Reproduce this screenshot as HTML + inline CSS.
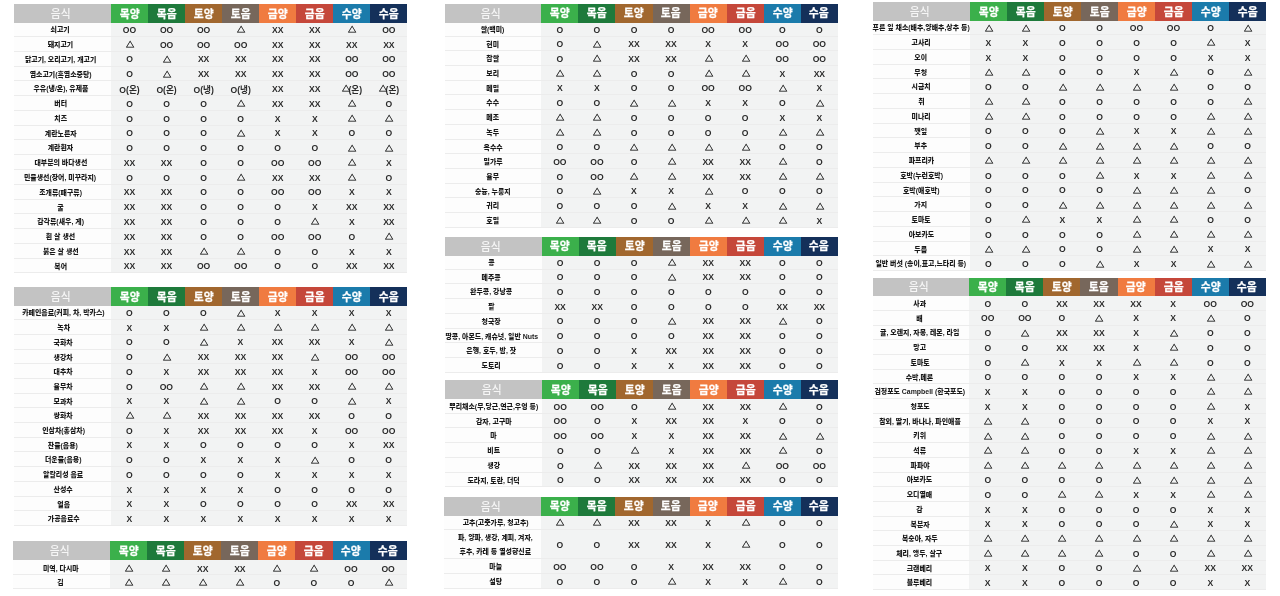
<!DOCTYPE html>
<html lang="ko"><head><meta charset="utf-8"><title>음식 체질표</title><style>
*{margin:0;padding:0;box-sizing:border-box}
html,body{width:1280px;height:596px;overflow:hidden;background:#fff}
body{position:relative;will-change:transform;font-family:"Liberation Sans","Noto Sans CJK KR",sans-serif}
.hn,.hc,.nb,.db,.ln,.nm,.nm2,.c{position:absolute}
.hn{background:#c3c3c3;color:#f6f6f6;display:flex;align-items:center;justify-content:center;font-family:"Noto Sans CJK KR",sans-serif;font-weight:500;font-size:11.6px;padding-right:4.6px;padding-top:.6px}
.hc{color:#fff;display:flex;align-items:center;justify-content:center;font-family:"Noto Sans CJK KR",sans-serif;font-weight:700;font-size:11.6px;padding-right:.6px;-webkit-text-stroke:.25px #fff}
.hn span,.hc span{display:inline-block;transform:scaleX(.93);line-height:1}
.nb{background:#fdfdfd}
.db{background:#f2f3f3}
.ln{height:1px;background:#ececec}
.nm,.nm2{display:flex;align-items:center;justify-content:center;font-family:"Liberation Sans","Noto Sans CJK KR",sans-serif;font-weight:900;font-size:7.3px;color:#1a1a1a;white-space:nowrap;text-align:center;padding-top:2px}
.nm span,.nm2 span{display:inline-block;transform:scaleX(.95);line-height:1}
.nm2 span{line-height:14.2px}
.c{display:flex;align-items:center;justify-content:center;font-family:"Liberation Sans","Noto Sans CJK KR",sans-serif;font-weight:700;font-size:8.6px;color:#2b2b2b;white-space:nowrap;padding-top:2px}
.c i{font-style:normal;font-family:"Noto Sans CJK KR",sans-serif;font-weight:400;font-size:7px;display:inline-block;transform:translate(.6px,-.3px) scaleX(1.18);line-height:1;-webkit-text-stroke:0.4px #262626}
</style></head><body>
<div class="hn" style="left:14px;top:4.1px;width:97.6px;height:18.9px"><span>음식</span></div>
<div class="hc" style="left:111px;top:4.1px;width:37.65px;height:18.9px;background:#3bb04b"><span>목양</span></div>
<div class="hc" style="left:148.05px;top:4.1px;width:37.65px;height:18.9px;background:#1e7a3b"><span>목음</span></div>
<div class="hc" style="left:185.1px;top:4.1px;width:37.65px;height:18.9px;background:#a1672e"><span>토양</span></div>
<div class="hc" style="left:222.15px;top:4.1px;width:37.65px;height:18.9px;background:#77675b"><span>토음</span></div>
<div class="hc" style="left:259.2px;top:4.1px;width:37.65px;height:18.9px;background:#f07b40"><span>금양</span></div>
<div class="hc" style="left:296.25px;top:4.1px;width:37.65px;height:18.9px;background:#c5473a"><span>금음</span></div>
<div class="hc" style="left:333.3px;top:4.1px;width:37.65px;height:18.9px;background:#1b7bab"><span>수양</span></div>
<div class="hc" style="left:370.35px;top:4.1px;width:37.05px;height:18.9px;background:#14305a"><span>수음</span></div>
<div class="nb" style="left:14px;top:23px;width:97.6px;height:249.7px"></div>
<div class="db" style="left:111px;top:23px;width:296.4px;height:249.7px"></div>
<div class="ln" style="left:14px;top:36px;width:393.4px"></div>
<div class="nm" style="left:12px;top:21.52px;width:97px;height:14.77px"><span>쇠고기</span></div>
<div class="c" style="left:111px;top:21.52px;width:37.05px;height:14.77px">OO</div>
<div class="c" style="left:148.05px;top:21.52px;width:37.05px;height:14.77px">OO</div>
<div class="c" style="left:185.1px;top:21.52px;width:37.05px;height:14.77px">OO</div>
<div class="c" style="left:222.15px;top:21.52px;width:37.05px;height:14.77px"><i>△</i></div>
<div class="c" style="left:259.2px;top:21.52px;width:37.05px;height:14.77px">XX</div>
<div class="c" style="left:296.25px;top:21.52px;width:37.05px;height:14.77px">XX</div>
<div class="c" style="left:333.3px;top:21.52px;width:37.05px;height:14.77px"><i>△</i></div>
<div class="c" style="left:370.35px;top:21.52px;width:37.05px;height:14.77px">OO</div>
<div class="ln" style="left:14px;top:50.77px;width:393.4px"></div>
<div class="nm" style="left:12px;top:36.3px;width:97px;height:14.77px"><span>돼지고기</span></div>
<div class="c" style="left:111px;top:36.3px;width:37.05px;height:14.77px"><i>△</i></div>
<div class="c" style="left:148.05px;top:36.3px;width:37.05px;height:14.77px">OO</div>
<div class="c" style="left:185.1px;top:36.3px;width:37.05px;height:14.77px">OO</div>
<div class="c" style="left:222.15px;top:36.3px;width:37.05px;height:14.77px">OO</div>
<div class="c" style="left:259.2px;top:36.3px;width:37.05px;height:14.77px">XX</div>
<div class="c" style="left:296.25px;top:36.3px;width:37.05px;height:14.77px">XX</div>
<div class="c" style="left:333.3px;top:36.3px;width:37.05px;height:14.77px">XX</div>
<div class="c" style="left:370.35px;top:36.3px;width:37.05px;height:14.77px">XX</div>
<div class="ln" style="left:14px;top:65.55px;width:393.4px"></div>
<div class="nm" style="left:12px;top:51.07px;width:97px;height:14.77px"><span>닭고기, 오리고기, 개고기</span></div>
<div class="c" style="left:111px;top:51.07px;width:37.05px;height:14.77px">O</div>
<div class="c" style="left:148.05px;top:51.07px;width:37.05px;height:14.77px"><i>△</i></div>
<div class="c" style="left:185.1px;top:51.07px;width:37.05px;height:14.77px">XX</div>
<div class="c" style="left:222.15px;top:51.07px;width:37.05px;height:14.77px">XX</div>
<div class="c" style="left:259.2px;top:51.07px;width:37.05px;height:14.77px">XX</div>
<div class="c" style="left:296.25px;top:51.07px;width:37.05px;height:14.77px">XX</div>
<div class="c" style="left:333.3px;top:51.07px;width:37.05px;height:14.77px">OO</div>
<div class="c" style="left:370.35px;top:51.07px;width:37.05px;height:14.77px">OO</div>
<div class="ln" style="left:14px;top:80.33px;width:393.4px"></div>
<div class="nm" style="left:12px;top:65.85px;width:97px;height:14.77px"><span>염소고기(흑염소중탕)</span></div>
<div class="c" style="left:111px;top:65.85px;width:37.05px;height:14.77px">O</div>
<div class="c" style="left:148.05px;top:65.85px;width:37.05px;height:14.77px"><i>△</i></div>
<div class="c" style="left:185.1px;top:65.85px;width:37.05px;height:14.77px">XX</div>
<div class="c" style="left:222.15px;top:65.85px;width:37.05px;height:14.77px">XX</div>
<div class="c" style="left:259.2px;top:65.85px;width:37.05px;height:14.77px">XX</div>
<div class="c" style="left:296.25px;top:65.85px;width:37.05px;height:14.77px">XX</div>
<div class="c" style="left:333.3px;top:65.85px;width:37.05px;height:14.77px">OO</div>
<div class="c" style="left:370.35px;top:65.85px;width:37.05px;height:14.77px">OO</div>
<div class="ln" style="left:14px;top:95.1px;width:393.4px"></div>
<div class="nm" style="left:12px;top:80.62px;width:97px;height:14.77px"><span>우유(냉/온), 유제품</span></div>
<div class="c" style="left:111px;top:80.62px;width:37.05px;height:14.77px">O(온)</div>
<div class="c" style="left:148.05px;top:80.62px;width:37.05px;height:14.77px">O(온)</div>
<div class="c" style="left:185.1px;top:80.62px;width:37.05px;height:14.77px">O(냉)</div>
<div class="c" style="left:222.15px;top:80.62px;width:37.05px;height:14.77px">O(냉)</div>
<div class="c" style="left:259.2px;top:80.62px;width:37.05px;height:14.77px">XX</div>
<div class="c" style="left:296.25px;top:80.62px;width:37.05px;height:14.77px">XX</div>
<div class="c" style="left:333.3px;top:80.62px;width:37.05px;height:14.77px"><i>△</i>(온)</div>
<div class="c" style="left:370.35px;top:80.62px;width:37.05px;height:14.77px"><i>△</i>(온)</div>
<div class="ln" style="left:14px;top:109.88px;width:393.4px"></div>
<div class="nm" style="left:12px;top:95.4px;width:97px;height:14.77px"><span>버터</span></div>
<div class="c" style="left:111px;top:95.4px;width:37.05px;height:14.77px">O</div>
<div class="c" style="left:148.05px;top:95.4px;width:37.05px;height:14.77px">O</div>
<div class="c" style="left:185.1px;top:95.4px;width:37.05px;height:14.77px">O</div>
<div class="c" style="left:222.15px;top:95.4px;width:37.05px;height:14.77px"><i>△</i></div>
<div class="c" style="left:259.2px;top:95.4px;width:37.05px;height:14.77px">XX</div>
<div class="c" style="left:296.25px;top:95.4px;width:37.05px;height:14.77px">XX</div>
<div class="c" style="left:333.3px;top:95.4px;width:37.05px;height:14.77px"><i>△</i></div>
<div class="c" style="left:370.35px;top:95.4px;width:37.05px;height:14.77px">O</div>
<div class="ln" style="left:14px;top:124.65px;width:393.4px"></div>
<div class="nm" style="left:12px;top:110.18px;width:97px;height:14.77px"><span>치즈</span></div>
<div class="c" style="left:111px;top:110.18px;width:37.05px;height:14.77px">O</div>
<div class="c" style="left:148.05px;top:110.18px;width:37.05px;height:14.77px">O</div>
<div class="c" style="left:185.1px;top:110.18px;width:37.05px;height:14.77px">O</div>
<div class="c" style="left:222.15px;top:110.18px;width:37.05px;height:14.77px">O</div>
<div class="c" style="left:259.2px;top:110.18px;width:37.05px;height:14.77px">X</div>
<div class="c" style="left:296.25px;top:110.18px;width:37.05px;height:14.77px">X</div>
<div class="c" style="left:333.3px;top:110.18px;width:37.05px;height:14.77px"><i>△</i></div>
<div class="c" style="left:370.35px;top:110.18px;width:37.05px;height:14.77px"><i>△</i></div>
<div class="ln" style="left:14px;top:139.43px;width:393.4px"></div>
<div class="nm" style="left:12px;top:124.95px;width:97px;height:14.77px"><span>계란노른자</span></div>
<div class="c" style="left:111px;top:124.95px;width:37.05px;height:14.77px">O</div>
<div class="c" style="left:148.05px;top:124.95px;width:37.05px;height:14.77px">O</div>
<div class="c" style="left:185.1px;top:124.95px;width:37.05px;height:14.77px">O</div>
<div class="c" style="left:222.15px;top:124.95px;width:37.05px;height:14.77px"><i>△</i></div>
<div class="c" style="left:259.2px;top:124.95px;width:37.05px;height:14.77px">X</div>
<div class="c" style="left:296.25px;top:124.95px;width:37.05px;height:14.77px">X</div>
<div class="c" style="left:333.3px;top:124.95px;width:37.05px;height:14.77px">O</div>
<div class="c" style="left:370.35px;top:124.95px;width:37.05px;height:14.77px">O</div>
<div class="ln" style="left:14px;top:154.2px;width:393.4px"></div>
<div class="nm" style="left:12px;top:139.73px;width:97px;height:14.77px"><span>계란흰자</span></div>
<div class="c" style="left:111px;top:139.73px;width:37.05px;height:14.77px">O</div>
<div class="c" style="left:148.05px;top:139.73px;width:37.05px;height:14.77px">O</div>
<div class="c" style="left:185.1px;top:139.73px;width:37.05px;height:14.77px">O</div>
<div class="c" style="left:222.15px;top:139.73px;width:37.05px;height:14.77px">O</div>
<div class="c" style="left:259.2px;top:139.73px;width:37.05px;height:14.77px">O</div>
<div class="c" style="left:296.25px;top:139.73px;width:37.05px;height:14.77px">O</div>
<div class="c" style="left:333.3px;top:139.73px;width:37.05px;height:14.77px"><i>△</i></div>
<div class="c" style="left:370.35px;top:139.73px;width:37.05px;height:14.77px"><i>△</i></div>
<div class="ln" style="left:14px;top:168.98px;width:393.4px"></div>
<div class="nm" style="left:12px;top:154.5px;width:97px;height:14.77px"><span>대부분의 바다생선</span></div>
<div class="c" style="left:111px;top:154.5px;width:37.05px;height:14.77px">XX</div>
<div class="c" style="left:148.05px;top:154.5px;width:37.05px;height:14.77px">XX</div>
<div class="c" style="left:185.1px;top:154.5px;width:37.05px;height:14.77px">O</div>
<div class="c" style="left:222.15px;top:154.5px;width:37.05px;height:14.77px">O</div>
<div class="c" style="left:259.2px;top:154.5px;width:37.05px;height:14.77px">OO</div>
<div class="c" style="left:296.25px;top:154.5px;width:37.05px;height:14.77px">OO</div>
<div class="c" style="left:333.3px;top:154.5px;width:37.05px;height:14.77px"><i>△</i></div>
<div class="c" style="left:370.35px;top:154.5px;width:37.05px;height:14.77px">X</div>
<div class="ln" style="left:14px;top:183.75px;width:393.4px"></div>
<div class="nm" style="left:12px;top:169.28px;width:97px;height:14.77px"><span>민물생선(장어, 미꾸라지)</span></div>
<div class="c" style="left:111px;top:169.28px;width:37.05px;height:14.77px">O</div>
<div class="c" style="left:148.05px;top:169.28px;width:37.05px;height:14.77px">O</div>
<div class="c" style="left:185.1px;top:169.28px;width:37.05px;height:14.77px">O</div>
<div class="c" style="left:222.15px;top:169.28px;width:37.05px;height:14.77px"><i>△</i></div>
<div class="c" style="left:259.2px;top:169.28px;width:37.05px;height:14.77px">XX</div>
<div class="c" style="left:296.25px;top:169.28px;width:37.05px;height:14.77px">XX</div>
<div class="c" style="left:333.3px;top:169.28px;width:37.05px;height:14.77px"><i>△</i></div>
<div class="c" style="left:370.35px;top:169.28px;width:37.05px;height:14.77px">O</div>
<div class="ln" style="left:14px;top:198.53px;width:393.4px"></div>
<div class="nm" style="left:12px;top:184.05px;width:97px;height:14.77px"><span>조개류(패구류)</span></div>
<div class="c" style="left:111px;top:184.05px;width:37.05px;height:14.77px">XX</div>
<div class="c" style="left:148.05px;top:184.05px;width:37.05px;height:14.77px">XX</div>
<div class="c" style="left:185.1px;top:184.05px;width:37.05px;height:14.77px">O</div>
<div class="c" style="left:222.15px;top:184.05px;width:37.05px;height:14.77px">O</div>
<div class="c" style="left:259.2px;top:184.05px;width:37.05px;height:14.77px">OO</div>
<div class="c" style="left:296.25px;top:184.05px;width:37.05px;height:14.77px">OO</div>
<div class="c" style="left:333.3px;top:184.05px;width:37.05px;height:14.77px">X</div>
<div class="c" style="left:370.35px;top:184.05px;width:37.05px;height:14.77px">X</div>
<div class="ln" style="left:14px;top:213.3px;width:393.4px"></div>
<div class="nm" style="left:12px;top:198.83px;width:97px;height:14.77px"><span>굴</span></div>
<div class="c" style="left:111px;top:198.83px;width:37.05px;height:14.77px">XX</div>
<div class="c" style="left:148.05px;top:198.83px;width:37.05px;height:14.77px">XX</div>
<div class="c" style="left:185.1px;top:198.83px;width:37.05px;height:14.77px">O</div>
<div class="c" style="left:222.15px;top:198.83px;width:37.05px;height:14.77px">O</div>
<div class="c" style="left:259.2px;top:198.83px;width:37.05px;height:14.77px">O</div>
<div class="c" style="left:296.25px;top:198.83px;width:37.05px;height:14.77px">X</div>
<div class="c" style="left:333.3px;top:198.83px;width:37.05px;height:14.77px">XX</div>
<div class="c" style="left:370.35px;top:198.83px;width:37.05px;height:14.77px">XX</div>
<div class="ln" style="left:14px;top:228.08px;width:393.4px"></div>
<div class="nm" style="left:12px;top:213.6px;width:97px;height:14.77px"><span>갑각류(새우, 게)</span></div>
<div class="c" style="left:111px;top:213.6px;width:37.05px;height:14.77px">XX</div>
<div class="c" style="left:148.05px;top:213.6px;width:37.05px;height:14.77px">XX</div>
<div class="c" style="left:185.1px;top:213.6px;width:37.05px;height:14.77px">O</div>
<div class="c" style="left:222.15px;top:213.6px;width:37.05px;height:14.77px">O</div>
<div class="c" style="left:259.2px;top:213.6px;width:37.05px;height:14.77px">O</div>
<div class="c" style="left:296.25px;top:213.6px;width:37.05px;height:14.77px"><i>△</i></div>
<div class="c" style="left:333.3px;top:213.6px;width:37.05px;height:14.77px">X</div>
<div class="c" style="left:370.35px;top:213.6px;width:37.05px;height:14.77px">XX</div>
<div class="ln" style="left:14px;top:242.85px;width:393.4px"></div>
<div class="nm" style="left:12px;top:228.38px;width:97px;height:14.77px"><span>흰 살 생선</span></div>
<div class="c" style="left:111px;top:228.38px;width:37.05px;height:14.77px">XX</div>
<div class="c" style="left:148.05px;top:228.38px;width:37.05px;height:14.77px">XX</div>
<div class="c" style="left:185.1px;top:228.38px;width:37.05px;height:14.77px">O</div>
<div class="c" style="left:222.15px;top:228.38px;width:37.05px;height:14.77px">O</div>
<div class="c" style="left:259.2px;top:228.38px;width:37.05px;height:14.77px">OO</div>
<div class="c" style="left:296.25px;top:228.38px;width:37.05px;height:14.77px">OO</div>
<div class="c" style="left:333.3px;top:228.38px;width:37.05px;height:14.77px">O</div>
<div class="c" style="left:370.35px;top:228.38px;width:37.05px;height:14.77px"><i>△</i></div>
<div class="ln" style="left:14px;top:257.63px;width:393.4px"></div>
<div class="nm" style="left:12px;top:243.15px;width:97px;height:14.77px"><span>붉은 살 생선</span></div>
<div class="c" style="left:111px;top:243.15px;width:37.05px;height:14.77px">XX</div>
<div class="c" style="left:148.05px;top:243.15px;width:37.05px;height:14.77px">XX</div>
<div class="c" style="left:185.1px;top:243.15px;width:37.05px;height:14.77px"><i>△</i></div>
<div class="c" style="left:222.15px;top:243.15px;width:37.05px;height:14.77px"><i>△</i></div>
<div class="c" style="left:259.2px;top:243.15px;width:37.05px;height:14.77px">O</div>
<div class="c" style="left:296.25px;top:243.15px;width:37.05px;height:14.77px">O</div>
<div class="c" style="left:333.3px;top:243.15px;width:37.05px;height:14.77px">X</div>
<div class="c" style="left:370.35px;top:243.15px;width:37.05px;height:14.77px">X</div>
<div class="ln" style="left:14px;top:272.4px;width:393.4px"></div>
<div class="nm" style="left:12px;top:257.93px;width:97px;height:14.77px"><span>복어</span></div>
<div class="c" style="left:111px;top:257.93px;width:37.05px;height:14.77px">XX</div>
<div class="c" style="left:148.05px;top:257.93px;width:37.05px;height:14.77px">XX</div>
<div class="c" style="left:185.1px;top:257.93px;width:37.05px;height:14.77px">OO</div>
<div class="c" style="left:222.15px;top:257.93px;width:37.05px;height:14.77px">OO</div>
<div class="c" style="left:259.2px;top:257.93px;width:37.05px;height:14.77px">O</div>
<div class="c" style="left:296.25px;top:257.93px;width:37.05px;height:14.77px">O</div>
<div class="c" style="left:333.3px;top:257.93px;width:37.05px;height:14.77px">XX</div>
<div class="c" style="left:370.35px;top:257.93px;width:37.05px;height:14.77px">XX</div>
<div class="hn" style="left:14px;top:287px;width:97.4px;height:19px"><span>음식</span></div>
<div class="hc" style="left:110.8px;top:287px;width:37.65px;height:19px;background:#3bb04b"><span>목양</span></div>
<div class="hc" style="left:147.85px;top:287px;width:37.65px;height:19px;background:#1e7a3b"><span>목음</span></div>
<div class="hc" style="left:184.9px;top:287px;width:37.65px;height:19px;background:#a1672e"><span>토양</span></div>
<div class="hc" style="left:221.95px;top:287px;width:37.65px;height:19px;background:#77675b"><span>토음</span></div>
<div class="hc" style="left:259px;top:287px;width:37.65px;height:19px;background:#f07b40"><span>금양</span></div>
<div class="hc" style="left:296.05px;top:287px;width:37.65px;height:19px;background:#c5473a"><span>금음</span></div>
<div class="hc" style="left:333.1px;top:287px;width:37.65px;height:19px;background:#1b7bab"><span>수양</span></div>
<div class="hc" style="left:370.15px;top:287px;width:37.05px;height:19px;background:#14305a"><span>수음</span></div>
<div class="nb" style="left:14px;top:306px;width:97.4px;height:219.3px"></div>
<div class="db" style="left:110.8px;top:306px;width:296.4px;height:219.3px"></div>
<div class="ln" style="left:14px;top:319.1px;width:393.2px"></div>
<div class="nm" style="left:14.95px;top:304.69px;width:96.8px;height:14.71px"><span>카페인음료(커피, 차, 박카스)</span></div>
<div class="c" style="left:110.8px;top:304.69px;width:37.05px;height:14.71px">O</div>
<div class="c" style="left:147.85px;top:304.69px;width:37.05px;height:14.71px">O</div>
<div class="c" style="left:184.9px;top:304.69px;width:37.05px;height:14.71px">O</div>
<div class="c" style="left:221.95px;top:304.69px;width:37.05px;height:14.71px"><i>△</i></div>
<div class="c" style="left:259px;top:304.69px;width:37.05px;height:14.71px">X</div>
<div class="c" style="left:296.05px;top:304.69px;width:37.05px;height:14.71px">X</div>
<div class="c" style="left:333.1px;top:304.69px;width:37.05px;height:14.71px">X</div>
<div class="c" style="left:370.15px;top:304.69px;width:37.05px;height:14.71px">X</div>
<div class="ln" style="left:14px;top:333.81px;width:393.2px"></div>
<div class="nm" style="left:14.95px;top:319.4px;width:96.8px;height:14.71px"><span>녹차</span></div>
<div class="c" style="left:110.8px;top:319.4px;width:37.05px;height:14.71px">X</div>
<div class="c" style="left:147.85px;top:319.4px;width:37.05px;height:14.71px">X</div>
<div class="c" style="left:184.9px;top:319.4px;width:37.05px;height:14.71px"><i>△</i></div>
<div class="c" style="left:221.95px;top:319.4px;width:37.05px;height:14.71px"><i>△</i></div>
<div class="c" style="left:259px;top:319.4px;width:37.05px;height:14.71px"><i>△</i></div>
<div class="c" style="left:296.05px;top:319.4px;width:37.05px;height:14.71px"><i>△</i></div>
<div class="c" style="left:333.1px;top:319.4px;width:37.05px;height:14.71px"><i>△</i></div>
<div class="c" style="left:370.15px;top:319.4px;width:37.05px;height:14.71px"><i>△</i></div>
<div class="ln" style="left:14px;top:348.51px;width:393.2px"></div>
<div class="nm" style="left:14.95px;top:334.11px;width:96.8px;height:14.71px"><span>국화차</span></div>
<div class="c" style="left:110.8px;top:334.11px;width:37.05px;height:14.71px">O</div>
<div class="c" style="left:147.85px;top:334.11px;width:37.05px;height:14.71px">O</div>
<div class="c" style="left:184.9px;top:334.11px;width:37.05px;height:14.71px"><i>△</i></div>
<div class="c" style="left:221.95px;top:334.11px;width:37.05px;height:14.71px">X</div>
<div class="c" style="left:259px;top:334.11px;width:37.05px;height:14.71px">XX</div>
<div class="c" style="left:296.05px;top:334.11px;width:37.05px;height:14.71px">XX</div>
<div class="c" style="left:333.1px;top:334.11px;width:37.05px;height:14.71px">X</div>
<div class="c" style="left:370.15px;top:334.11px;width:37.05px;height:14.71px"><i>△</i></div>
<div class="ln" style="left:14px;top:363.22px;width:393.2px"></div>
<div class="nm" style="left:14.95px;top:348.81px;width:96.8px;height:14.71px"><span>생강차</span></div>
<div class="c" style="left:110.8px;top:348.81px;width:37.05px;height:14.71px">O</div>
<div class="c" style="left:147.85px;top:348.81px;width:37.05px;height:14.71px"><i>△</i></div>
<div class="c" style="left:184.9px;top:348.81px;width:37.05px;height:14.71px">XX</div>
<div class="c" style="left:221.95px;top:348.81px;width:37.05px;height:14.71px">XX</div>
<div class="c" style="left:259px;top:348.81px;width:37.05px;height:14.71px">XX</div>
<div class="c" style="left:296.05px;top:348.81px;width:37.05px;height:14.71px"><i>△</i></div>
<div class="c" style="left:333.1px;top:348.81px;width:37.05px;height:14.71px">OO</div>
<div class="c" style="left:370.15px;top:348.81px;width:37.05px;height:14.71px">OO</div>
<div class="ln" style="left:14px;top:377.93px;width:393.2px"></div>
<div class="nm" style="left:14.95px;top:363.52px;width:96.8px;height:14.71px"><span>대추차</span></div>
<div class="c" style="left:110.8px;top:363.52px;width:37.05px;height:14.71px">O</div>
<div class="c" style="left:147.85px;top:363.52px;width:37.05px;height:14.71px">X</div>
<div class="c" style="left:184.9px;top:363.52px;width:37.05px;height:14.71px">XX</div>
<div class="c" style="left:221.95px;top:363.52px;width:37.05px;height:14.71px">XX</div>
<div class="c" style="left:259px;top:363.52px;width:37.05px;height:14.71px">XX</div>
<div class="c" style="left:296.05px;top:363.52px;width:37.05px;height:14.71px">X</div>
<div class="c" style="left:333.1px;top:363.52px;width:37.05px;height:14.71px">OO</div>
<div class="c" style="left:370.15px;top:363.52px;width:37.05px;height:14.71px">OO</div>
<div class="ln" style="left:14px;top:392.64px;width:393.2px"></div>
<div class="nm" style="left:14.95px;top:378.23px;width:96.8px;height:14.71px"><span>율무차</span></div>
<div class="c" style="left:110.8px;top:378.23px;width:37.05px;height:14.71px">O</div>
<div class="c" style="left:147.85px;top:378.23px;width:37.05px;height:14.71px">OO</div>
<div class="c" style="left:184.9px;top:378.23px;width:37.05px;height:14.71px"><i>△</i></div>
<div class="c" style="left:221.95px;top:378.23px;width:37.05px;height:14.71px"><i>△</i></div>
<div class="c" style="left:259px;top:378.23px;width:37.05px;height:14.71px">XX</div>
<div class="c" style="left:296.05px;top:378.23px;width:37.05px;height:14.71px">XX</div>
<div class="c" style="left:333.1px;top:378.23px;width:37.05px;height:14.71px"><i>△</i></div>
<div class="c" style="left:370.15px;top:378.23px;width:37.05px;height:14.71px"><i>△</i></div>
<div class="ln" style="left:14px;top:407.34px;width:393.2px"></div>
<div class="nm" style="left:14.95px;top:392.94px;width:96.8px;height:14.71px"><span>모과차</span></div>
<div class="c" style="left:110.8px;top:392.94px;width:37.05px;height:14.71px">X</div>
<div class="c" style="left:147.85px;top:392.94px;width:37.05px;height:14.71px">X</div>
<div class="c" style="left:184.9px;top:392.94px;width:37.05px;height:14.71px"><i>△</i></div>
<div class="c" style="left:221.95px;top:392.94px;width:37.05px;height:14.71px"><i>△</i></div>
<div class="c" style="left:259px;top:392.94px;width:37.05px;height:14.71px">O</div>
<div class="c" style="left:296.05px;top:392.94px;width:37.05px;height:14.71px">O</div>
<div class="c" style="left:333.1px;top:392.94px;width:37.05px;height:14.71px"><i>△</i></div>
<div class="c" style="left:370.15px;top:392.94px;width:37.05px;height:14.71px">X</div>
<div class="ln" style="left:14px;top:422.05px;width:393.2px"></div>
<div class="nm" style="left:14.95px;top:407.64px;width:96.8px;height:14.71px"><span>쌍화차</span></div>
<div class="c" style="left:110.8px;top:407.64px;width:37.05px;height:14.71px"><i>△</i></div>
<div class="c" style="left:147.85px;top:407.64px;width:37.05px;height:14.71px"><i>△</i></div>
<div class="c" style="left:184.9px;top:407.64px;width:37.05px;height:14.71px">XX</div>
<div class="c" style="left:221.95px;top:407.64px;width:37.05px;height:14.71px">XX</div>
<div class="c" style="left:259px;top:407.64px;width:37.05px;height:14.71px">XX</div>
<div class="c" style="left:296.05px;top:407.64px;width:37.05px;height:14.71px">XX</div>
<div class="c" style="left:333.1px;top:407.64px;width:37.05px;height:14.71px">O</div>
<div class="c" style="left:370.15px;top:407.64px;width:37.05px;height:14.71px">O</div>
<div class="ln" style="left:14px;top:436.76px;width:393.2px"></div>
<div class="nm" style="left:14.95px;top:422.35px;width:96.8px;height:14.71px"><span>인삼차(홍삼차)</span></div>
<div class="c" style="left:110.8px;top:422.35px;width:37.05px;height:14.71px">O</div>
<div class="c" style="left:147.85px;top:422.35px;width:37.05px;height:14.71px">X</div>
<div class="c" style="left:184.9px;top:422.35px;width:37.05px;height:14.71px">XX</div>
<div class="c" style="left:221.95px;top:422.35px;width:37.05px;height:14.71px">XX</div>
<div class="c" style="left:259px;top:422.35px;width:37.05px;height:14.71px">XX</div>
<div class="c" style="left:296.05px;top:422.35px;width:37.05px;height:14.71px">X</div>
<div class="c" style="left:333.1px;top:422.35px;width:37.05px;height:14.71px">OO</div>
<div class="c" style="left:370.15px;top:422.35px;width:37.05px;height:14.71px">OO</div>
<div class="ln" style="left:14px;top:451.46px;width:393.2px"></div>
<div class="nm" style="left:14.95px;top:437.06px;width:96.8px;height:14.71px"><span>찬물(음용)</span></div>
<div class="c" style="left:110.8px;top:437.06px;width:37.05px;height:14.71px">X</div>
<div class="c" style="left:147.85px;top:437.06px;width:37.05px;height:14.71px">X</div>
<div class="c" style="left:184.9px;top:437.06px;width:37.05px;height:14.71px">O</div>
<div class="c" style="left:221.95px;top:437.06px;width:37.05px;height:14.71px">O</div>
<div class="c" style="left:259px;top:437.06px;width:37.05px;height:14.71px">O</div>
<div class="c" style="left:296.05px;top:437.06px;width:37.05px;height:14.71px">O</div>
<div class="c" style="left:333.1px;top:437.06px;width:37.05px;height:14.71px">X</div>
<div class="c" style="left:370.15px;top:437.06px;width:37.05px;height:14.71px">XX</div>
<div class="ln" style="left:14px;top:466.17px;width:393.2px"></div>
<div class="nm" style="left:14.95px;top:451.76px;width:96.8px;height:14.71px"><span>더운물(음용)</span></div>
<div class="c" style="left:110.8px;top:451.76px;width:37.05px;height:14.71px">O</div>
<div class="c" style="left:147.85px;top:451.76px;width:37.05px;height:14.71px">O</div>
<div class="c" style="left:184.9px;top:451.76px;width:37.05px;height:14.71px">X</div>
<div class="c" style="left:221.95px;top:451.76px;width:37.05px;height:14.71px">X</div>
<div class="c" style="left:259px;top:451.76px;width:37.05px;height:14.71px">X</div>
<div class="c" style="left:296.05px;top:451.76px;width:37.05px;height:14.71px"><i>△</i></div>
<div class="c" style="left:333.1px;top:451.76px;width:37.05px;height:14.71px">O</div>
<div class="c" style="left:370.15px;top:451.76px;width:37.05px;height:14.71px">O</div>
<div class="ln" style="left:14px;top:480.88px;width:393.2px"></div>
<div class="nm" style="left:14.95px;top:466.47px;width:96.8px;height:14.71px"><span>알칼리성 음료</span></div>
<div class="c" style="left:110.8px;top:466.47px;width:37.05px;height:14.71px">O</div>
<div class="c" style="left:147.85px;top:466.47px;width:37.05px;height:14.71px">O</div>
<div class="c" style="left:184.9px;top:466.47px;width:37.05px;height:14.71px">O</div>
<div class="c" style="left:221.95px;top:466.47px;width:37.05px;height:14.71px">O</div>
<div class="c" style="left:259px;top:466.47px;width:37.05px;height:14.71px">X</div>
<div class="c" style="left:296.05px;top:466.47px;width:37.05px;height:14.71px">X</div>
<div class="c" style="left:333.1px;top:466.47px;width:37.05px;height:14.71px">X</div>
<div class="c" style="left:370.15px;top:466.47px;width:37.05px;height:14.71px">X</div>
<div class="ln" style="left:14px;top:495.59px;width:393.2px"></div>
<div class="nm" style="left:14.95px;top:481.18px;width:96.8px;height:14.71px"><span>산성수</span></div>
<div class="c" style="left:110.8px;top:481.18px;width:37.05px;height:14.71px">X</div>
<div class="c" style="left:147.85px;top:481.18px;width:37.05px;height:14.71px">X</div>
<div class="c" style="left:184.9px;top:481.18px;width:37.05px;height:14.71px">X</div>
<div class="c" style="left:221.95px;top:481.18px;width:37.05px;height:14.71px">X</div>
<div class="c" style="left:259px;top:481.18px;width:37.05px;height:14.71px">O</div>
<div class="c" style="left:296.05px;top:481.18px;width:37.05px;height:14.71px">O</div>
<div class="c" style="left:333.1px;top:481.18px;width:37.05px;height:14.71px">O</div>
<div class="c" style="left:370.15px;top:481.18px;width:37.05px;height:14.71px">O</div>
<div class="ln" style="left:14px;top:510.29px;width:393.2px"></div>
<div class="nm" style="left:14.95px;top:495.89px;width:96.8px;height:14.71px"><span>얼음</span></div>
<div class="c" style="left:110.8px;top:495.89px;width:37.05px;height:14.71px">X</div>
<div class="c" style="left:147.85px;top:495.89px;width:37.05px;height:14.71px">X</div>
<div class="c" style="left:184.9px;top:495.89px;width:37.05px;height:14.71px">O</div>
<div class="c" style="left:221.95px;top:495.89px;width:37.05px;height:14.71px">O</div>
<div class="c" style="left:259px;top:495.89px;width:37.05px;height:14.71px">O</div>
<div class="c" style="left:296.05px;top:495.89px;width:37.05px;height:14.71px">O</div>
<div class="c" style="left:333.1px;top:495.89px;width:37.05px;height:14.71px">XX</div>
<div class="c" style="left:370.15px;top:495.89px;width:37.05px;height:14.71px">XX</div>
<div class="ln" style="left:14px;top:525px;width:393.2px"></div>
<div class="nm" style="left:14.95px;top:510.59px;width:96.8px;height:14.71px"><span>가공음료수</span></div>
<div class="c" style="left:110.8px;top:510.59px;width:37.05px;height:14.71px">X</div>
<div class="c" style="left:147.85px;top:510.59px;width:37.05px;height:14.71px">X</div>
<div class="c" style="left:184.9px;top:510.59px;width:37.05px;height:14.71px">X</div>
<div class="c" style="left:221.95px;top:510.59px;width:37.05px;height:14.71px">X</div>
<div class="c" style="left:259px;top:510.59px;width:37.05px;height:14.71px">X</div>
<div class="c" style="left:296.05px;top:510.59px;width:37.05px;height:14.71px">X</div>
<div class="c" style="left:333.1px;top:510.59px;width:37.05px;height:14.71px">X</div>
<div class="c" style="left:370.15px;top:510.59px;width:37.05px;height:14.71px">X</div>
<div class="hn" style="left:13.1px;top:541.4px;width:97.7px;height:18.7px"><span>음식</span></div>
<div class="hc" style="left:110.2px;top:541.4px;width:37.65px;height:18.7px;background:#3bb04b"><span>목양</span></div>
<div class="hc" style="left:147.25px;top:541.4px;width:37.65px;height:18.7px;background:#1e7a3b"><span>목음</span></div>
<div class="hc" style="left:184.3px;top:541.4px;width:37.65px;height:18.7px;background:#a1672e"><span>토양</span></div>
<div class="hc" style="left:221.35px;top:541.4px;width:37.65px;height:18.7px;background:#77675b"><span>토음</span></div>
<div class="hc" style="left:258.4px;top:541.4px;width:37.65px;height:18.7px;background:#f07b40"><span>금양</span></div>
<div class="hc" style="left:295.45px;top:541.4px;width:37.65px;height:18.7px;background:#c5473a"><span>금음</span></div>
<div class="hc" style="left:332.5px;top:541.4px;width:37.65px;height:18.7px;background:#1b7bab"><span>수양</span></div>
<div class="hc" style="left:369.55px;top:541.4px;width:37.05px;height:18.7px;background:#14305a"><span>수음</span></div>
<div class="nb" style="left:13.1px;top:560.1px;width:97.7px;height:28.5px"></div>
<div class="db" style="left:110.2px;top:560.1px;width:296.4px;height:28.5px"></div>
<div class="ln" style="left:13.1px;top:574.3px;width:393.5px"></div>
<div class="nm" style="left:12px;top:560.6px;width:97.1px;height:14px"><span>미역, 다시마</span></div>
<div class="c" style="left:110.2px;top:560.6px;width:37.05px;height:14px"><i>△</i></div>
<div class="c" style="left:147.25px;top:560.6px;width:37.05px;height:14px"><i>△</i></div>
<div class="c" style="left:184.3px;top:560.6px;width:37.05px;height:14px">XX</div>
<div class="c" style="left:221.35px;top:560.6px;width:37.05px;height:14px">XX</div>
<div class="c" style="left:258.4px;top:560.6px;width:37.05px;height:14px"><i>△</i></div>
<div class="c" style="left:295.45px;top:560.6px;width:37.05px;height:14px"><i>△</i></div>
<div class="c" style="left:332.5px;top:560.6px;width:37.05px;height:14px">OO</div>
<div class="c" style="left:369.55px;top:560.6px;width:37.05px;height:14px">OO</div>
<div class="ln" style="left:13.1px;top:588.3px;width:393.5px"></div>
<div class="nm" style="left:12px;top:574.6px;width:97.1px;height:14px"><span>김</span></div>
<div class="c" style="left:110.2px;top:574.6px;width:37.05px;height:14px"><i>△</i></div>
<div class="c" style="left:147.25px;top:574.6px;width:37.05px;height:14px"><i>△</i></div>
<div class="c" style="left:184.3px;top:574.6px;width:37.05px;height:14px"><i>△</i></div>
<div class="c" style="left:221.35px;top:574.6px;width:37.05px;height:14px"><i>△</i></div>
<div class="c" style="left:258.4px;top:574.6px;width:37.05px;height:14px">O</div>
<div class="c" style="left:295.45px;top:574.6px;width:37.05px;height:14px">O</div>
<div class="c" style="left:332.5px;top:574.6px;width:37.05px;height:14px">O</div>
<div class="c" style="left:369.55px;top:574.6px;width:37.05px;height:14px"><i>△</i></div>
<div class="hn" style="left:444.8px;top:3.5px;width:97.1px;height:19px"><span>음식</span></div>
<div class="hc" style="left:541.3px;top:3.5px;width:37.68px;height:19px;background:#3bb04b"><span>목양</span></div>
<div class="hc" style="left:578.38px;top:3.5px;width:37.68px;height:19px;background:#1e7a3b"><span>목음</span></div>
<div class="hc" style="left:615.45px;top:3.5px;width:37.68px;height:19px;background:#a1672e"><span>토양</span></div>
<div class="hc" style="left:652.52px;top:3.5px;width:37.68px;height:19px;background:#77675b"><span>토음</span></div>
<div class="hc" style="left:689.6px;top:3.5px;width:37.68px;height:19px;background:#f07b40"><span>금양</span></div>
<div class="hc" style="left:726.67px;top:3.5px;width:37.68px;height:19px;background:#c5473a"><span>금음</span></div>
<div class="hc" style="left:763.75px;top:3.5px;width:37.68px;height:19px;background:#1b7bab"><span>수양</span></div>
<div class="hc" style="left:800.83px;top:3.5px;width:37.08px;height:19px;background:#14305a"><span>수음</span></div>
<div class="nb" style="left:444.8px;top:22.5px;width:97.1px;height:204.7px"></div>
<div class="db" style="left:541.3px;top:22.5px;width:296.6px;height:204.7px"></div>
<div class="ln" style="left:444.8px;top:35.6px;width:393.1px"></div>
<div class="nm" style="left:444.6px;top:21.18px;width:96.5px;height:14.72px"><span>쌀(백미)</span></div>
<div class="c" style="left:541.3px;top:21.18px;width:37.08px;height:14.72px">O</div>
<div class="c" style="left:578.38px;top:21.18px;width:37.08px;height:14.72px">O</div>
<div class="c" style="left:615.45px;top:21.18px;width:37.08px;height:14.72px">O</div>
<div class="c" style="left:652.52px;top:21.18px;width:37.08px;height:14.72px">O</div>
<div class="c" style="left:689.6px;top:21.18px;width:37.08px;height:14.72px">OO</div>
<div class="c" style="left:726.67px;top:21.18px;width:37.08px;height:14.72px">OO</div>
<div class="c" style="left:763.75px;top:21.18px;width:37.08px;height:14.72px">O</div>
<div class="c" style="left:800.83px;top:21.18px;width:37.08px;height:14.72px">O</div>
<div class="ln" style="left:444.8px;top:50.32px;width:393.1px"></div>
<div class="nm" style="left:444.6px;top:35.9px;width:96.5px;height:14.72px"><span>현미</span></div>
<div class="c" style="left:541.3px;top:35.9px;width:37.08px;height:14.72px">O</div>
<div class="c" style="left:578.38px;top:35.9px;width:37.08px;height:14.72px"><i>△</i></div>
<div class="c" style="left:615.45px;top:35.9px;width:37.08px;height:14.72px">XX</div>
<div class="c" style="left:652.52px;top:35.9px;width:37.08px;height:14.72px">XX</div>
<div class="c" style="left:689.6px;top:35.9px;width:37.08px;height:14.72px">X</div>
<div class="c" style="left:726.67px;top:35.9px;width:37.08px;height:14.72px">X</div>
<div class="c" style="left:763.75px;top:35.9px;width:37.08px;height:14.72px">OO</div>
<div class="c" style="left:800.83px;top:35.9px;width:37.08px;height:14.72px">OO</div>
<div class="ln" style="left:444.8px;top:65.03px;width:393.1px"></div>
<div class="nm" style="left:444.6px;top:50.62px;width:96.5px;height:14.72px"><span>찹쌀</span></div>
<div class="c" style="left:541.3px;top:50.62px;width:37.08px;height:14.72px">O</div>
<div class="c" style="left:578.38px;top:50.62px;width:37.08px;height:14.72px"><i>△</i></div>
<div class="c" style="left:615.45px;top:50.62px;width:37.08px;height:14.72px">XX</div>
<div class="c" style="left:652.52px;top:50.62px;width:37.08px;height:14.72px">XX</div>
<div class="c" style="left:689.6px;top:50.62px;width:37.08px;height:14.72px"><i>△</i></div>
<div class="c" style="left:726.67px;top:50.62px;width:37.08px;height:14.72px"><i>△</i></div>
<div class="c" style="left:763.75px;top:50.62px;width:37.08px;height:14.72px">OO</div>
<div class="c" style="left:800.83px;top:50.62px;width:37.08px;height:14.72px">OO</div>
<div class="ln" style="left:444.8px;top:79.75px;width:393.1px"></div>
<div class="nm" style="left:444.6px;top:65.33px;width:96.5px;height:14.72px"><span>보리</span></div>
<div class="c" style="left:541.3px;top:65.33px;width:37.08px;height:14.72px"><i>△</i></div>
<div class="c" style="left:578.38px;top:65.33px;width:37.08px;height:14.72px"><i>△</i></div>
<div class="c" style="left:615.45px;top:65.33px;width:37.08px;height:14.72px">O</div>
<div class="c" style="left:652.52px;top:65.33px;width:37.08px;height:14.72px">O</div>
<div class="c" style="left:689.6px;top:65.33px;width:37.08px;height:14.72px"><i>△</i></div>
<div class="c" style="left:726.67px;top:65.33px;width:37.08px;height:14.72px"><i>△</i></div>
<div class="c" style="left:763.75px;top:65.33px;width:37.08px;height:14.72px">X</div>
<div class="c" style="left:800.83px;top:65.33px;width:37.08px;height:14.72px">XX</div>
<div class="ln" style="left:444.8px;top:94.46px;width:393.1px"></div>
<div class="nm" style="left:444.6px;top:80.05px;width:96.5px;height:14.72px"><span>메밀</span></div>
<div class="c" style="left:541.3px;top:80.05px;width:37.08px;height:14.72px">X</div>
<div class="c" style="left:578.38px;top:80.05px;width:37.08px;height:14.72px">X</div>
<div class="c" style="left:615.45px;top:80.05px;width:37.08px;height:14.72px">O</div>
<div class="c" style="left:652.52px;top:80.05px;width:37.08px;height:14.72px">O</div>
<div class="c" style="left:689.6px;top:80.05px;width:37.08px;height:14.72px">OO</div>
<div class="c" style="left:726.67px;top:80.05px;width:37.08px;height:14.72px">OO</div>
<div class="c" style="left:763.75px;top:80.05px;width:37.08px;height:14.72px"><i>△</i></div>
<div class="c" style="left:800.83px;top:80.05px;width:37.08px;height:14.72px">X</div>
<div class="ln" style="left:444.8px;top:109.18px;width:393.1px"></div>
<div class="nm" style="left:444.6px;top:94.76px;width:96.5px;height:14.72px"><span>수수</span></div>
<div class="c" style="left:541.3px;top:94.76px;width:37.08px;height:14.72px">O</div>
<div class="c" style="left:578.38px;top:94.76px;width:37.08px;height:14.72px">O</div>
<div class="c" style="left:615.45px;top:94.76px;width:37.08px;height:14.72px"><i>△</i></div>
<div class="c" style="left:652.52px;top:94.76px;width:37.08px;height:14.72px"><i>△</i></div>
<div class="c" style="left:689.6px;top:94.76px;width:37.08px;height:14.72px">X</div>
<div class="c" style="left:726.67px;top:94.76px;width:37.08px;height:14.72px">X</div>
<div class="c" style="left:763.75px;top:94.76px;width:37.08px;height:14.72px">O</div>
<div class="c" style="left:800.83px;top:94.76px;width:37.08px;height:14.72px"><i>△</i></div>
<div class="ln" style="left:444.8px;top:123.89px;width:393.1px"></div>
<div class="nm" style="left:444.6px;top:109.48px;width:96.5px;height:14.72px"><span>메조</span></div>
<div class="c" style="left:541.3px;top:109.48px;width:37.08px;height:14.72px"><i>△</i></div>
<div class="c" style="left:578.38px;top:109.48px;width:37.08px;height:14.72px"><i>△</i></div>
<div class="c" style="left:615.45px;top:109.48px;width:37.08px;height:14.72px">O</div>
<div class="c" style="left:652.52px;top:109.48px;width:37.08px;height:14.72px">O</div>
<div class="c" style="left:689.6px;top:109.48px;width:37.08px;height:14.72px">O</div>
<div class="c" style="left:726.67px;top:109.48px;width:37.08px;height:14.72px">O</div>
<div class="c" style="left:763.75px;top:109.48px;width:37.08px;height:14.72px">X</div>
<div class="c" style="left:800.83px;top:109.48px;width:37.08px;height:14.72px">X</div>
<div class="ln" style="left:444.8px;top:138.61px;width:393.1px"></div>
<div class="nm" style="left:444.6px;top:124.19px;width:96.5px;height:14.72px"><span>녹두</span></div>
<div class="c" style="left:541.3px;top:124.19px;width:37.08px;height:14.72px"><i>△</i></div>
<div class="c" style="left:578.38px;top:124.19px;width:37.08px;height:14.72px"><i>△</i></div>
<div class="c" style="left:615.45px;top:124.19px;width:37.08px;height:14.72px">O</div>
<div class="c" style="left:652.52px;top:124.19px;width:37.08px;height:14.72px">O</div>
<div class="c" style="left:689.6px;top:124.19px;width:37.08px;height:14.72px">O</div>
<div class="c" style="left:726.67px;top:124.19px;width:37.08px;height:14.72px">O</div>
<div class="c" style="left:763.75px;top:124.19px;width:37.08px;height:14.72px"><i>△</i></div>
<div class="c" style="left:800.83px;top:124.19px;width:37.08px;height:14.72px"><i>△</i></div>
<div class="ln" style="left:444.8px;top:153.32px;width:393.1px"></div>
<div class="nm" style="left:444.6px;top:138.91px;width:96.5px;height:14.72px"><span>옥수수</span></div>
<div class="c" style="left:541.3px;top:138.91px;width:37.08px;height:14.72px">O</div>
<div class="c" style="left:578.38px;top:138.91px;width:37.08px;height:14.72px">O</div>
<div class="c" style="left:615.45px;top:138.91px;width:37.08px;height:14.72px"><i>△</i></div>
<div class="c" style="left:652.52px;top:138.91px;width:37.08px;height:14.72px"><i>△</i></div>
<div class="c" style="left:689.6px;top:138.91px;width:37.08px;height:14.72px"><i>△</i></div>
<div class="c" style="left:726.67px;top:138.91px;width:37.08px;height:14.72px"><i>△</i></div>
<div class="c" style="left:763.75px;top:138.91px;width:37.08px;height:14.72px">O</div>
<div class="c" style="left:800.83px;top:138.91px;width:37.08px;height:14.72px">O</div>
<div class="ln" style="left:444.8px;top:168.04px;width:393.1px"></div>
<div class="nm" style="left:444.6px;top:153.62px;width:96.5px;height:14.72px"><span>밀가루</span></div>
<div class="c" style="left:541.3px;top:153.62px;width:37.08px;height:14.72px">OO</div>
<div class="c" style="left:578.38px;top:153.62px;width:37.08px;height:14.72px">OO</div>
<div class="c" style="left:615.45px;top:153.62px;width:37.08px;height:14.72px">O</div>
<div class="c" style="left:652.52px;top:153.62px;width:37.08px;height:14.72px"><i>△</i></div>
<div class="c" style="left:689.6px;top:153.62px;width:37.08px;height:14.72px">XX</div>
<div class="c" style="left:726.67px;top:153.62px;width:37.08px;height:14.72px">XX</div>
<div class="c" style="left:763.75px;top:153.62px;width:37.08px;height:14.72px"><i>△</i></div>
<div class="c" style="left:800.83px;top:153.62px;width:37.08px;height:14.72px">O</div>
<div class="ln" style="left:444.8px;top:182.75px;width:393.1px"></div>
<div class="nm" style="left:444.6px;top:168.34px;width:96.5px;height:14.72px"><span>율무</span></div>
<div class="c" style="left:541.3px;top:168.34px;width:37.08px;height:14.72px">O</div>
<div class="c" style="left:578.38px;top:168.34px;width:37.08px;height:14.72px">OO</div>
<div class="c" style="left:615.45px;top:168.34px;width:37.08px;height:14.72px"><i>△</i></div>
<div class="c" style="left:652.52px;top:168.34px;width:37.08px;height:14.72px"><i>△</i></div>
<div class="c" style="left:689.6px;top:168.34px;width:37.08px;height:14.72px">XX</div>
<div class="c" style="left:726.67px;top:168.34px;width:37.08px;height:14.72px">XX</div>
<div class="c" style="left:763.75px;top:168.34px;width:37.08px;height:14.72px"><i>△</i></div>
<div class="c" style="left:800.83px;top:168.34px;width:37.08px;height:14.72px"><i>△</i></div>
<div class="ln" style="left:444.8px;top:197.47px;width:393.1px"></div>
<div class="nm" style="left:444.6px;top:183.05px;width:96.5px;height:14.72px"><span>숭늉, 누룽지</span></div>
<div class="c" style="left:541.3px;top:183.05px;width:37.08px;height:14.72px">O</div>
<div class="c" style="left:578.38px;top:183.05px;width:37.08px;height:14.72px"><i>△</i></div>
<div class="c" style="left:615.45px;top:183.05px;width:37.08px;height:14.72px">X</div>
<div class="c" style="left:652.52px;top:183.05px;width:37.08px;height:14.72px">X</div>
<div class="c" style="left:689.6px;top:183.05px;width:37.08px;height:14.72px"><i>△</i></div>
<div class="c" style="left:726.67px;top:183.05px;width:37.08px;height:14.72px">O</div>
<div class="c" style="left:763.75px;top:183.05px;width:37.08px;height:14.72px">O</div>
<div class="c" style="left:800.83px;top:183.05px;width:37.08px;height:14.72px">O</div>
<div class="ln" style="left:444.8px;top:212.18px;width:393.1px"></div>
<div class="nm" style="left:444.6px;top:197.77px;width:96.5px;height:14.72px"><span>귀리</span></div>
<div class="c" style="left:541.3px;top:197.77px;width:37.08px;height:14.72px">O</div>
<div class="c" style="left:578.38px;top:197.77px;width:37.08px;height:14.72px">O</div>
<div class="c" style="left:615.45px;top:197.77px;width:37.08px;height:14.72px">O</div>
<div class="c" style="left:652.52px;top:197.77px;width:37.08px;height:14.72px"><i>△</i></div>
<div class="c" style="left:689.6px;top:197.77px;width:37.08px;height:14.72px">X</div>
<div class="c" style="left:726.67px;top:197.77px;width:37.08px;height:14.72px">X</div>
<div class="c" style="left:763.75px;top:197.77px;width:37.08px;height:14.72px"><i>△</i></div>
<div class="c" style="left:800.83px;top:197.77px;width:37.08px;height:14.72px"><i>△</i></div>
<div class="ln" style="left:444.8px;top:226.9px;width:393.1px"></div>
<div class="nm" style="left:444.6px;top:212.48px;width:96.5px;height:14.72px"><span>호밀</span></div>
<div class="c" style="left:541.3px;top:212.48px;width:37.08px;height:14.72px"><i>△</i></div>
<div class="c" style="left:578.38px;top:212.48px;width:37.08px;height:14.72px"><i>△</i></div>
<div class="c" style="left:615.45px;top:212.48px;width:37.08px;height:14.72px">O</div>
<div class="c" style="left:652.52px;top:212.48px;width:37.08px;height:14.72px">O</div>
<div class="c" style="left:689.6px;top:212.48px;width:37.08px;height:14.72px"><i>△</i></div>
<div class="c" style="left:726.67px;top:212.48px;width:37.08px;height:14.72px"><i>△</i></div>
<div class="c" style="left:763.75px;top:212.48px;width:37.08px;height:14.72px"><i>△</i></div>
<div class="c" style="left:800.83px;top:212.48px;width:37.08px;height:14.72px">X</div>
<div class="hn" style="left:444.5px;top:237px;width:97.7px;height:18.5px"><span>음식</span></div>
<div class="hc" style="left:541.6px;top:237px;width:37.64px;height:18.5px;background:#3bb04b"><span>목양</span></div>
<div class="hc" style="left:578.64px;top:237px;width:37.64px;height:18.5px;background:#1e7a3b"><span>목음</span></div>
<div class="hc" style="left:615.67px;top:237px;width:37.64px;height:18.5px;background:#a1672e"><span>토양</span></div>
<div class="hc" style="left:652.71px;top:237px;width:37.64px;height:18.5px;background:#77675b"><span>토음</span></div>
<div class="hc" style="left:689.75px;top:237px;width:37.64px;height:18.5px;background:#f07b40"><span>금양</span></div>
<div class="hc" style="left:726.79px;top:237px;width:37.64px;height:18.5px;background:#c5473a"><span>금음</span></div>
<div class="hc" style="left:763.83px;top:237px;width:37.64px;height:18.5px;background:#1b7bab"><span>수양</span></div>
<div class="hc" style="left:800.86px;top:237px;width:37.04px;height:18.5px;background:#14305a"><span>수음</span></div>
<div class="nb" style="left:444.5px;top:255.5px;width:97.7px;height:116.5px"></div>
<div class="db" style="left:541.6px;top:255.5px;width:296.3px;height:116.5px"></div>
<div class="ln" style="left:444.5px;top:268.6px;width:393.4px"></div>
<div class="nm" style="left:443px;top:254.17px;width:97.1px;height:14.73px"><span>콩</span></div>
<div class="c" style="left:541.6px;top:254.17px;width:37.04px;height:14.73px">O</div>
<div class="c" style="left:578.64px;top:254.17px;width:37.04px;height:14.73px">O</div>
<div class="c" style="left:615.67px;top:254.17px;width:37.04px;height:14.73px">O</div>
<div class="c" style="left:652.71px;top:254.17px;width:37.04px;height:14.73px"><i>△</i></div>
<div class="c" style="left:689.75px;top:254.17px;width:37.04px;height:14.73px">XX</div>
<div class="c" style="left:726.79px;top:254.17px;width:37.04px;height:14.73px">XX</div>
<div class="c" style="left:763.83px;top:254.17px;width:37.04px;height:14.73px">O</div>
<div class="c" style="left:800.86px;top:254.17px;width:37.04px;height:14.73px">O</div>
<div class="ln" style="left:444.5px;top:283.33px;width:393.4px"></div>
<div class="nm" style="left:443px;top:268.9px;width:97.1px;height:14.73px"><span>메주콩</span></div>
<div class="c" style="left:541.6px;top:268.9px;width:37.04px;height:14.73px">O</div>
<div class="c" style="left:578.64px;top:268.9px;width:37.04px;height:14.73px">O</div>
<div class="c" style="left:615.67px;top:268.9px;width:37.04px;height:14.73px">O</div>
<div class="c" style="left:652.71px;top:268.9px;width:37.04px;height:14.73px"><i>△</i></div>
<div class="c" style="left:689.75px;top:268.9px;width:37.04px;height:14.73px">XX</div>
<div class="c" style="left:726.79px;top:268.9px;width:37.04px;height:14.73px">XX</div>
<div class="c" style="left:763.83px;top:268.9px;width:37.04px;height:14.73px">O</div>
<div class="c" style="left:800.86px;top:268.9px;width:37.04px;height:14.73px">O</div>
<div class="ln" style="left:444.5px;top:298.06px;width:393.4px"></div>
<div class="nm" style="left:443px;top:283.63px;width:97.1px;height:14.73px"><span>완두콩, 강낭콩</span></div>
<div class="c" style="left:541.6px;top:283.63px;width:37.04px;height:14.73px">O</div>
<div class="c" style="left:578.64px;top:283.63px;width:37.04px;height:14.73px">O</div>
<div class="c" style="left:615.67px;top:283.63px;width:37.04px;height:14.73px">O</div>
<div class="c" style="left:652.71px;top:283.63px;width:37.04px;height:14.73px">O</div>
<div class="c" style="left:689.75px;top:283.63px;width:37.04px;height:14.73px">O</div>
<div class="c" style="left:726.79px;top:283.63px;width:37.04px;height:14.73px">O</div>
<div class="c" style="left:763.83px;top:283.63px;width:37.04px;height:14.73px">O</div>
<div class="c" style="left:800.86px;top:283.63px;width:37.04px;height:14.73px">O</div>
<div class="ln" style="left:444.5px;top:312.79px;width:393.4px"></div>
<div class="nm" style="left:443px;top:298.36px;width:97.1px;height:14.73px"><span>팥</span></div>
<div class="c" style="left:541.6px;top:298.36px;width:37.04px;height:14.73px">XX</div>
<div class="c" style="left:578.64px;top:298.36px;width:37.04px;height:14.73px">XX</div>
<div class="c" style="left:615.67px;top:298.36px;width:37.04px;height:14.73px">O</div>
<div class="c" style="left:652.71px;top:298.36px;width:37.04px;height:14.73px">O</div>
<div class="c" style="left:689.75px;top:298.36px;width:37.04px;height:14.73px">O</div>
<div class="c" style="left:726.79px;top:298.36px;width:37.04px;height:14.73px">O</div>
<div class="c" style="left:763.83px;top:298.36px;width:37.04px;height:14.73px">XX</div>
<div class="c" style="left:800.86px;top:298.36px;width:37.04px;height:14.73px">XX</div>
<div class="ln" style="left:444.5px;top:327.51px;width:393.4px"></div>
<div class="nm" style="left:443px;top:313.09px;width:97.1px;height:14.73px"><span>청국장</span></div>
<div class="c" style="left:541.6px;top:313.09px;width:37.04px;height:14.73px">O</div>
<div class="c" style="left:578.64px;top:313.09px;width:37.04px;height:14.73px">O</div>
<div class="c" style="left:615.67px;top:313.09px;width:37.04px;height:14.73px">O</div>
<div class="c" style="left:652.71px;top:313.09px;width:37.04px;height:14.73px"><i>△</i></div>
<div class="c" style="left:689.75px;top:313.09px;width:37.04px;height:14.73px">XX</div>
<div class="c" style="left:726.79px;top:313.09px;width:37.04px;height:14.73px">XX</div>
<div class="c" style="left:763.83px;top:313.09px;width:37.04px;height:14.73px"><i>△</i></div>
<div class="c" style="left:800.86px;top:313.09px;width:37.04px;height:14.73px">O</div>
<div class="ln" style="left:444.5px;top:342.24px;width:393.4px"></div>
<div class="nm" style="left:443px;top:327.81px;width:97.1px;height:14.73px"><span>땅콩, 아몬드, 캐슈넛, 일반 Nuts</span></div>
<div class="c" style="left:541.6px;top:327.81px;width:37.04px;height:14.73px">O</div>
<div class="c" style="left:578.64px;top:327.81px;width:37.04px;height:14.73px">O</div>
<div class="c" style="left:615.67px;top:327.81px;width:37.04px;height:14.73px">O</div>
<div class="c" style="left:652.71px;top:327.81px;width:37.04px;height:14.73px">O</div>
<div class="c" style="left:689.75px;top:327.81px;width:37.04px;height:14.73px">XX</div>
<div class="c" style="left:726.79px;top:327.81px;width:37.04px;height:14.73px">XX</div>
<div class="c" style="left:763.83px;top:327.81px;width:37.04px;height:14.73px">O</div>
<div class="c" style="left:800.86px;top:327.81px;width:37.04px;height:14.73px">O</div>
<div class="ln" style="left:444.5px;top:356.97px;width:393.4px"></div>
<div class="nm" style="left:443px;top:342.54px;width:97.1px;height:14.73px"><span>은행, 호두, 밤, 잣</span></div>
<div class="c" style="left:541.6px;top:342.54px;width:37.04px;height:14.73px">O</div>
<div class="c" style="left:578.64px;top:342.54px;width:37.04px;height:14.73px">O</div>
<div class="c" style="left:615.67px;top:342.54px;width:37.04px;height:14.73px">X</div>
<div class="c" style="left:652.71px;top:342.54px;width:37.04px;height:14.73px">XX</div>
<div class="c" style="left:689.75px;top:342.54px;width:37.04px;height:14.73px">XX</div>
<div class="c" style="left:726.79px;top:342.54px;width:37.04px;height:14.73px">XX</div>
<div class="c" style="left:763.83px;top:342.54px;width:37.04px;height:14.73px">O</div>
<div class="c" style="left:800.86px;top:342.54px;width:37.04px;height:14.73px">O</div>
<div class="ln" style="left:444.5px;top:371.7px;width:393.4px"></div>
<div class="nm" style="left:443px;top:357.27px;width:97.1px;height:14.73px"><span>도토리</span></div>
<div class="c" style="left:541.6px;top:357.27px;width:37.04px;height:14.73px">O</div>
<div class="c" style="left:578.64px;top:357.27px;width:37.04px;height:14.73px">O</div>
<div class="c" style="left:615.67px;top:357.27px;width:37.04px;height:14.73px">X</div>
<div class="c" style="left:652.71px;top:357.27px;width:37.04px;height:14.73px">X</div>
<div class="c" style="left:689.75px;top:357.27px;width:37.04px;height:14.73px">XX</div>
<div class="c" style="left:726.79px;top:357.27px;width:37.04px;height:14.73px">XX</div>
<div class="c" style="left:763.83px;top:357.27px;width:37.04px;height:14.73px">O</div>
<div class="c" style="left:800.86px;top:357.27px;width:37.04px;height:14.73px">O</div>
<div class="hn" style="left:444.8px;top:380.2px;width:97.6px;height:18.8px"><span>음식</span></div>
<div class="hc" style="left:541.8px;top:380.2px;width:37.61px;height:18.8px;background:#3bb04b"><span>목양</span></div>
<div class="hc" style="left:578.81px;top:380.2px;width:37.61px;height:18.8px;background:#1e7a3b"><span>목음</span></div>
<div class="hc" style="left:615.82px;top:380.2px;width:37.61px;height:18.8px;background:#a1672e"><span>토양</span></div>
<div class="hc" style="left:652.84px;top:380.2px;width:37.61px;height:18.8px;background:#77675b"><span>토음</span></div>
<div class="hc" style="left:689.85px;top:380.2px;width:37.61px;height:18.8px;background:#f07b40"><span>금양</span></div>
<div class="hc" style="left:726.86px;top:380.2px;width:37.61px;height:18.8px;background:#c5473a"><span>금음</span></div>
<div class="hc" style="left:763.88px;top:380.2px;width:37.61px;height:18.8px;background:#1b7bab"><span>수양</span></div>
<div class="hc" style="left:800.89px;top:380.2px;width:37.01px;height:18.8px;background:#14305a"><span>수음</span></div>
<div class="nb" style="left:444.8px;top:399px;width:97.6px;height:87.7px"></div>
<div class="db" style="left:541.8px;top:399px;width:296.1px;height:87.7px"></div>
<div class="ln" style="left:444.8px;top:412.6px;width:393.1px"></div>
<div class="nm" style="left:445.15px;top:398.14px;width:97px;height:14.76px"><span>뿌리채소(무,당근,연근,우엉 등)</span></div>
<div class="c" style="left:541.8px;top:398.14px;width:37.01px;height:14.76px">OO</div>
<div class="c" style="left:578.81px;top:398.14px;width:37.01px;height:14.76px">OO</div>
<div class="c" style="left:615.82px;top:398.14px;width:37.01px;height:14.76px">O</div>
<div class="c" style="left:652.84px;top:398.14px;width:37.01px;height:14.76px"><i>△</i></div>
<div class="c" style="left:689.85px;top:398.14px;width:37.01px;height:14.76px">XX</div>
<div class="c" style="left:726.86px;top:398.14px;width:37.01px;height:14.76px">XX</div>
<div class="c" style="left:763.88px;top:398.14px;width:37.01px;height:14.76px"><i>△</i></div>
<div class="c" style="left:800.89px;top:398.14px;width:37.01px;height:14.76px">O</div>
<div class="ln" style="left:444.8px;top:427.36px;width:393.1px"></div>
<div class="nm" style="left:445.15px;top:412.9px;width:97px;height:14.76px"><span>감자, 고구마</span></div>
<div class="c" style="left:541.8px;top:412.9px;width:37.01px;height:14.76px">OO</div>
<div class="c" style="left:578.81px;top:412.9px;width:37.01px;height:14.76px">O</div>
<div class="c" style="left:615.82px;top:412.9px;width:37.01px;height:14.76px">X</div>
<div class="c" style="left:652.84px;top:412.9px;width:37.01px;height:14.76px">XX</div>
<div class="c" style="left:689.85px;top:412.9px;width:37.01px;height:14.76px">XX</div>
<div class="c" style="left:726.86px;top:412.9px;width:37.01px;height:14.76px">X</div>
<div class="c" style="left:763.88px;top:412.9px;width:37.01px;height:14.76px">O</div>
<div class="c" style="left:800.89px;top:412.9px;width:37.01px;height:14.76px">O</div>
<div class="ln" style="left:444.8px;top:442.12px;width:393.1px"></div>
<div class="nm" style="left:445.15px;top:427.66px;width:97px;height:14.76px"><span>마</span></div>
<div class="c" style="left:541.8px;top:427.66px;width:37.01px;height:14.76px">OO</div>
<div class="c" style="left:578.81px;top:427.66px;width:37.01px;height:14.76px">OO</div>
<div class="c" style="left:615.82px;top:427.66px;width:37.01px;height:14.76px">X</div>
<div class="c" style="left:652.84px;top:427.66px;width:37.01px;height:14.76px">X</div>
<div class="c" style="left:689.85px;top:427.66px;width:37.01px;height:14.76px">XX</div>
<div class="c" style="left:726.86px;top:427.66px;width:37.01px;height:14.76px">XX</div>
<div class="c" style="left:763.88px;top:427.66px;width:37.01px;height:14.76px"><i>△</i></div>
<div class="c" style="left:800.89px;top:427.66px;width:37.01px;height:14.76px"><i>△</i></div>
<div class="ln" style="left:444.8px;top:456.88px;width:393.1px"></div>
<div class="nm" style="left:445.15px;top:442.42px;width:97px;height:14.76px"><span>비트</span></div>
<div class="c" style="left:541.8px;top:442.42px;width:37.01px;height:14.76px">O</div>
<div class="c" style="left:578.81px;top:442.42px;width:37.01px;height:14.76px">O</div>
<div class="c" style="left:615.82px;top:442.42px;width:37.01px;height:14.76px"><i>△</i></div>
<div class="c" style="left:652.84px;top:442.42px;width:37.01px;height:14.76px">X</div>
<div class="c" style="left:689.85px;top:442.42px;width:37.01px;height:14.76px">XX</div>
<div class="c" style="left:726.86px;top:442.42px;width:37.01px;height:14.76px">XX</div>
<div class="c" style="left:763.88px;top:442.42px;width:37.01px;height:14.76px"><i>△</i></div>
<div class="c" style="left:800.89px;top:442.42px;width:37.01px;height:14.76px">O</div>
<div class="ln" style="left:444.8px;top:471.64px;width:393.1px"></div>
<div class="nm" style="left:445.15px;top:457.18px;width:97px;height:14.76px"><span>생강</span></div>
<div class="c" style="left:541.8px;top:457.18px;width:37.01px;height:14.76px">O</div>
<div class="c" style="left:578.81px;top:457.18px;width:37.01px;height:14.76px"><i>△</i></div>
<div class="c" style="left:615.82px;top:457.18px;width:37.01px;height:14.76px">XX</div>
<div class="c" style="left:652.84px;top:457.18px;width:37.01px;height:14.76px">XX</div>
<div class="c" style="left:689.85px;top:457.18px;width:37.01px;height:14.76px">XX</div>
<div class="c" style="left:726.86px;top:457.18px;width:37.01px;height:14.76px"><i>△</i></div>
<div class="c" style="left:763.88px;top:457.18px;width:37.01px;height:14.76px">OO</div>
<div class="c" style="left:800.89px;top:457.18px;width:37.01px;height:14.76px">OO</div>
<div class="ln" style="left:444.8px;top:486.4px;width:393.1px"></div>
<div class="nm" style="left:445.15px;top:471.94px;width:97px;height:14.76px"><span>도라지, 토란, 더덕</span></div>
<div class="c" style="left:541.8px;top:471.94px;width:37.01px;height:14.76px">O</div>
<div class="c" style="left:578.81px;top:471.94px;width:37.01px;height:14.76px">O</div>
<div class="c" style="left:615.82px;top:471.94px;width:37.01px;height:14.76px">XX</div>
<div class="c" style="left:652.84px;top:471.94px;width:37.01px;height:14.76px">XX</div>
<div class="c" style="left:689.85px;top:471.94px;width:37.01px;height:14.76px">XX</div>
<div class="c" style="left:726.86px;top:471.94px;width:37.01px;height:14.76px">XX</div>
<div class="c" style="left:763.88px;top:471.94px;width:37.01px;height:14.76px">O</div>
<div class="c" style="left:800.89px;top:471.94px;width:37.01px;height:14.76px">O</div>
<div class="hn" style="left:444.4px;top:497px;width:97.5px;height:18.5px"><span>음식</span></div>
<div class="hc" style="left:541.3px;top:497px;width:37.68px;height:18.5px;background:#3bb04b"><span>목양</span></div>
<div class="hc" style="left:578.38px;top:497px;width:37.68px;height:18.5px;background:#1e7a3b"><span>목음</span></div>
<div class="hc" style="left:615.45px;top:497px;width:37.68px;height:18.5px;background:#a1672e"><span>토양</span></div>
<div class="hc" style="left:652.52px;top:497px;width:37.68px;height:18.5px;background:#77675b"><span>토음</span></div>
<div class="hc" style="left:689.6px;top:497px;width:37.68px;height:18.5px;background:#f07b40"><span>금양</span></div>
<div class="hc" style="left:726.67px;top:497px;width:37.68px;height:18.5px;background:#c5473a"><span>금음</span></div>
<div class="hc" style="left:763.75px;top:497px;width:37.68px;height:18.5px;background:#1b7bab"><span>수양</span></div>
<div class="hc" style="left:800.83px;top:497px;width:37.08px;height:18.5px;background:#14305a"><span>수음</span></div>
<div class="nb" style="left:444.4px;top:515.5px;width:97.5px;height:72.5px"></div>
<div class="db" style="left:541.3px;top:515.5px;width:296.6px;height:72.5px"></div>
<div class="ln" style="left:444.4px;top:528.9px;width:393.5px"></div>
<div class="nm" style="left:447px;top:514.5px;width:96.9px;height:14.7px"><span>고추(고춧가루, 청고추)</span></div>
<div class="c" style="left:541.3px;top:514.5px;width:37.08px;height:14.7px"><i>△</i></div>
<div class="c" style="left:578.38px;top:514.5px;width:37.08px;height:14.7px"><i>△</i></div>
<div class="c" style="left:615.45px;top:514.5px;width:37.08px;height:14.7px">XX</div>
<div class="c" style="left:652.52px;top:514.5px;width:37.08px;height:14.7px">XX</div>
<div class="c" style="left:689.6px;top:514.5px;width:37.08px;height:14.7px">X</div>
<div class="c" style="left:726.67px;top:514.5px;width:37.08px;height:14.7px"><i>△</i></div>
<div class="c" style="left:763.75px;top:514.5px;width:37.08px;height:14.7px">O</div>
<div class="c" style="left:800.83px;top:514.5px;width:37.08px;height:14.7px">O</div>
<div class="ln" style="left:444.4px;top:558.3px;width:393.5px"></div>
<div class="nm2" style="left:447px;top:529.2px;width:96.9px;height:29.4px"><span>파, 양파, 생강, 계피, 겨자,<br>후추, 카레 등 열성향신료</span></div>
<div class="c" style="left:541.3px;top:529.2px;width:37.08px;height:29.4px">O</div>
<div class="c" style="left:578.38px;top:529.2px;width:37.08px;height:29.4px">O</div>
<div class="c" style="left:615.45px;top:529.2px;width:37.08px;height:29.4px">XX</div>
<div class="c" style="left:652.52px;top:529.2px;width:37.08px;height:29.4px">XX</div>
<div class="c" style="left:689.6px;top:529.2px;width:37.08px;height:29.4px">X</div>
<div class="c" style="left:726.67px;top:529.2px;width:37.08px;height:29.4px"><i>△</i></div>
<div class="c" style="left:763.75px;top:529.2px;width:37.08px;height:29.4px">O</div>
<div class="c" style="left:800.83px;top:529.2px;width:37.08px;height:29.4px">O</div>
<div class="ln" style="left:444.4px;top:573px;width:393.5px"></div>
<div class="nm" style="left:447px;top:558.6px;width:96.9px;height:14.7px"><span>마늘</span></div>
<div class="c" style="left:541.3px;top:558.6px;width:37.08px;height:14.7px">OO</div>
<div class="c" style="left:578.38px;top:558.6px;width:37.08px;height:14.7px">OO</div>
<div class="c" style="left:615.45px;top:558.6px;width:37.08px;height:14.7px">O</div>
<div class="c" style="left:652.52px;top:558.6px;width:37.08px;height:14.7px">X</div>
<div class="c" style="left:689.6px;top:558.6px;width:37.08px;height:14.7px">XX</div>
<div class="c" style="left:726.67px;top:558.6px;width:37.08px;height:14.7px">XX</div>
<div class="c" style="left:763.75px;top:558.6px;width:37.08px;height:14.7px">O</div>
<div class="c" style="left:800.83px;top:558.6px;width:37.08px;height:14.7px">O</div>
<div class="ln" style="left:444.4px;top:587.7px;width:393.5px"></div>
<div class="nm" style="left:447px;top:573.3px;width:96.9px;height:14.7px"><span>설탕</span></div>
<div class="c" style="left:541.3px;top:573.3px;width:37.08px;height:14.7px">O</div>
<div class="c" style="left:578.38px;top:573.3px;width:37.08px;height:14.7px">O</div>
<div class="c" style="left:615.45px;top:573.3px;width:37.08px;height:14.7px">O</div>
<div class="c" style="left:652.52px;top:573.3px;width:37.08px;height:14.7px"><i>△</i></div>
<div class="c" style="left:689.6px;top:573.3px;width:37.08px;height:14.7px">X</div>
<div class="c" style="left:726.67px;top:573.3px;width:37.08px;height:14.7px">X</div>
<div class="c" style="left:763.75px;top:573.3px;width:37.08px;height:14.7px"><i>△</i></div>
<div class="c" style="left:800.83px;top:573.3px;width:37.08px;height:14.7px">O</div>
<div class="hn" style="left:872.9px;top:2.4px;width:97.6px;height:19px"><span>음식</span></div>
<div class="hc" style="left:969.9px;top:2.4px;width:37.62px;height:19px;background:#3bb04b"><span>목양</span></div>
<div class="hc" style="left:1006.92px;top:2.4px;width:37.62px;height:19px;background:#1e7a3b"><span>목음</span></div>
<div class="hc" style="left:1043.95px;top:2.4px;width:37.62px;height:19px;background:#a1672e"><span>토양</span></div>
<div class="hc" style="left:1080.97px;top:2.4px;width:37.62px;height:19px;background:#77675b"><span>토음</span></div>
<div class="hc" style="left:1118px;top:2.4px;width:37.62px;height:19px;background:#f07b40"><span>금양</span></div>
<div class="hc" style="left:1155.02px;top:2.4px;width:37.62px;height:19px;background:#c5473a"><span>금음</span></div>
<div class="hc" style="left:1192.05px;top:2.4px;width:37.62px;height:19px;background:#1b7bab"><span>수양</span></div>
<div class="hc" style="left:1229.07px;top:2.4px;width:37.02px;height:19px;background:#14305a"><span>수음</span></div>
<div class="nb" style="left:872.9px;top:21.4px;width:97.6px;height:249.1px"></div>
<div class="db" style="left:969.9px;top:21.4px;width:296.2px;height:249.1px"></div>
<div class="ln" style="left:872.9px;top:34.1px;width:393.2px"></div>
<div class="nm" style="left:872.7px;top:19.64px;width:97px;height:14.76px"><span>푸른 잎 채소(배추,양배추,상추 등)</span></div>
<div class="c" style="left:969.9px;top:19.64px;width:37.02px;height:14.76px"><i>△</i></div>
<div class="c" style="left:1006.92px;top:19.64px;width:37.02px;height:14.76px"><i>△</i></div>
<div class="c" style="left:1043.95px;top:19.64px;width:37.02px;height:14.76px">O</div>
<div class="c" style="left:1080.97px;top:19.64px;width:37.02px;height:14.76px">O</div>
<div class="c" style="left:1118px;top:19.64px;width:37.02px;height:14.76px">OO</div>
<div class="c" style="left:1155.02px;top:19.64px;width:37.02px;height:14.76px">OO</div>
<div class="c" style="left:1192.05px;top:19.64px;width:37.02px;height:14.76px">O</div>
<div class="c" style="left:1229.07px;top:19.64px;width:37.02px;height:14.76px"><i>△</i></div>
<div class="ln" style="left:872.9px;top:48.86px;width:393.2px"></div>
<div class="nm" style="left:872.7px;top:34.4px;width:97px;height:14.76px"><span>고사리</span></div>
<div class="c" style="left:969.9px;top:34.4px;width:37.02px;height:14.76px">X</div>
<div class="c" style="left:1006.92px;top:34.4px;width:37.02px;height:14.76px">X</div>
<div class="c" style="left:1043.95px;top:34.4px;width:37.02px;height:14.76px">O</div>
<div class="c" style="left:1080.97px;top:34.4px;width:37.02px;height:14.76px">O</div>
<div class="c" style="left:1118px;top:34.4px;width:37.02px;height:14.76px">O</div>
<div class="c" style="left:1155.02px;top:34.4px;width:37.02px;height:14.76px">O</div>
<div class="c" style="left:1192.05px;top:34.4px;width:37.02px;height:14.76px"><i>△</i></div>
<div class="c" style="left:1229.07px;top:34.4px;width:37.02px;height:14.76px">X</div>
<div class="ln" style="left:872.9px;top:63.61px;width:393.2px"></div>
<div class="nm" style="left:872.7px;top:49.16px;width:97px;height:14.76px"><span>오이</span></div>
<div class="c" style="left:969.9px;top:49.16px;width:37.02px;height:14.76px">X</div>
<div class="c" style="left:1006.92px;top:49.16px;width:37.02px;height:14.76px">X</div>
<div class="c" style="left:1043.95px;top:49.16px;width:37.02px;height:14.76px">O</div>
<div class="c" style="left:1080.97px;top:49.16px;width:37.02px;height:14.76px">O</div>
<div class="c" style="left:1118px;top:49.16px;width:37.02px;height:14.76px">O</div>
<div class="c" style="left:1155.02px;top:49.16px;width:37.02px;height:14.76px">O</div>
<div class="c" style="left:1192.05px;top:49.16px;width:37.02px;height:14.76px">X</div>
<div class="c" style="left:1229.07px;top:49.16px;width:37.02px;height:14.76px">X</div>
<div class="ln" style="left:872.9px;top:78.37px;width:393.2px"></div>
<div class="nm" style="left:872.7px;top:63.91px;width:97px;height:14.76px"><span>무청</span></div>
<div class="c" style="left:969.9px;top:63.91px;width:37.02px;height:14.76px"><i>△</i></div>
<div class="c" style="left:1006.92px;top:63.91px;width:37.02px;height:14.76px"><i>△</i></div>
<div class="c" style="left:1043.95px;top:63.91px;width:37.02px;height:14.76px">O</div>
<div class="c" style="left:1080.97px;top:63.91px;width:37.02px;height:14.76px">O</div>
<div class="c" style="left:1118px;top:63.91px;width:37.02px;height:14.76px">X</div>
<div class="c" style="left:1155.02px;top:63.91px;width:37.02px;height:14.76px"><i>△</i></div>
<div class="c" style="left:1192.05px;top:63.91px;width:37.02px;height:14.76px">O</div>
<div class="c" style="left:1229.07px;top:63.91px;width:37.02px;height:14.76px"><i>△</i></div>
<div class="ln" style="left:872.9px;top:93.12px;width:393.2px"></div>
<div class="nm" style="left:872.7px;top:78.67px;width:97px;height:14.76px"><span>시금치</span></div>
<div class="c" style="left:969.9px;top:78.67px;width:37.02px;height:14.76px">O</div>
<div class="c" style="left:1006.92px;top:78.67px;width:37.02px;height:14.76px">O</div>
<div class="c" style="left:1043.95px;top:78.67px;width:37.02px;height:14.76px"><i>△</i></div>
<div class="c" style="left:1080.97px;top:78.67px;width:37.02px;height:14.76px"><i>△</i></div>
<div class="c" style="left:1118px;top:78.67px;width:37.02px;height:14.76px"><i>△</i></div>
<div class="c" style="left:1155.02px;top:78.67px;width:37.02px;height:14.76px"><i>△</i></div>
<div class="c" style="left:1192.05px;top:78.67px;width:37.02px;height:14.76px">O</div>
<div class="c" style="left:1229.07px;top:78.67px;width:37.02px;height:14.76px">O</div>
<div class="ln" style="left:872.9px;top:107.88px;width:393.2px"></div>
<div class="nm" style="left:872.7px;top:93.42px;width:97px;height:14.76px"><span>취</span></div>
<div class="c" style="left:969.9px;top:93.42px;width:37.02px;height:14.76px"><i>△</i></div>
<div class="c" style="left:1006.92px;top:93.42px;width:37.02px;height:14.76px"><i>△</i></div>
<div class="c" style="left:1043.95px;top:93.42px;width:37.02px;height:14.76px">O</div>
<div class="c" style="left:1080.97px;top:93.42px;width:37.02px;height:14.76px">O</div>
<div class="c" style="left:1118px;top:93.42px;width:37.02px;height:14.76px">O</div>
<div class="c" style="left:1155.02px;top:93.42px;width:37.02px;height:14.76px">O</div>
<div class="c" style="left:1192.05px;top:93.42px;width:37.02px;height:14.76px">O</div>
<div class="c" style="left:1229.07px;top:93.42px;width:37.02px;height:14.76px"><i>△</i></div>
<div class="ln" style="left:872.9px;top:122.64px;width:393.2px"></div>
<div class="nm" style="left:872.7px;top:108.18px;width:97px;height:14.76px"><span>미나리</span></div>
<div class="c" style="left:969.9px;top:108.18px;width:37.02px;height:14.76px"><i>△</i></div>
<div class="c" style="left:1006.92px;top:108.18px;width:37.02px;height:14.76px"><i>△</i></div>
<div class="c" style="left:1043.95px;top:108.18px;width:37.02px;height:14.76px">O</div>
<div class="c" style="left:1080.97px;top:108.18px;width:37.02px;height:14.76px">O</div>
<div class="c" style="left:1118px;top:108.18px;width:37.02px;height:14.76px">O</div>
<div class="c" style="left:1155.02px;top:108.18px;width:37.02px;height:14.76px">O</div>
<div class="c" style="left:1192.05px;top:108.18px;width:37.02px;height:14.76px"><i>△</i></div>
<div class="c" style="left:1229.07px;top:108.18px;width:37.02px;height:14.76px"><i>△</i></div>
<div class="ln" style="left:872.9px;top:137.39px;width:393.2px"></div>
<div class="nm" style="left:872.7px;top:122.94px;width:97px;height:14.76px"><span>깻잎</span></div>
<div class="c" style="left:969.9px;top:122.94px;width:37.02px;height:14.76px">O</div>
<div class="c" style="left:1006.92px;top:122.94px;width:37.02px;height:14.76px">O</div>
<div class="c" style="left:1043.95px;top:122.94px;width:37.02px;height:14.76px">O</div>
<div class="c" style="left:1080.97px;top:122.94px;width:37.02px;height:14.76px"><i>△</i></div>
<div class="c" style="left:1118px;top:122.94px;width:37.02px;height:14.76px">X</div>
<div class="c" style="left:1155.02px;top:122.94px;width:37.02px;height:14.76px">X</div>
<div class="c" style="left:1192.05px;top:122.94px;width:37.02px;height:14.76px"><i>△</i></div>
<div class="c" style="left:1229.07px;top:122.94px;width:37.02px;height:14.76px"><i>△</i></div>
<div class="ln" style="left:872.9px;top:152.15px;width:393.2px"></div>
<div class="nm" style="left:872.7px;top:137.69px;width:97px;height:14.76px"><span>부추</span></div>
<div class="c" style="left:969.9px;top:137.69px;width:37.02px;height:14.76px">O</div>
<div class="c" style="left:1006.92px;top:137.69px;width:37.02px;height:14.76px">O</div>
<div class="c" style="left:1043.95px;top:137.69px;width:37.02px;height:14.76px"><i>△</i></div>
<div class="c" style="left:1080.97px;top:137.69px;width:37.02px;height:14.76px"><i>△</i></div>
<div class="c" style="left:1118px;top:137.69px;width:37.02px;height:14.76px"><i>△</i></div>
<div class="c" style="left:1155.02px;top:137.69px;width:37.02px;height:14.76px"><i>△</i></div>
<div class="c" style="left:1192.05px;top:137.69px;width:37.02px;height:14.76px">O</div>
<div class="c" style="left:1229.07px;top:137.69px;width:37.02px;height:14.76px">O</div>
<div class="ln" style="left:872.9px;top:166.91px;width:393.2px"></div>
<div class="nm" style="left:872.7px;top:152.45px;width:97px;height:14.76px"><span>파프리카</span></div>
<div class="c" style="left:969.9px;top:152.45px;width:37.02px;height:14.76px"><i>△</i></div>
<div class="c" style="left:1006.92px;top:152.45px;width:37.02px;height:14.76px"><i>△</i></div>
<div class="c" style="left:1043.95px;top:152.45px;width:37.02px;height:14.76px"><i>△</i></div>
<div class="c" style="left:1080.97px;top:152.45px;width:37.02px;height:14.76px"><i>△</i></div>
<div class="c" style="left:1118px;top:152.45px;width:37.02px;height:14.76px"><i>△</i></div>
<div class="c" style="left:1155.02px;top:152.45px;width:37.02px;height:14.76px"><i>△</i></div>
<div class="c" style="left:1192.05px;top:152.45px;width:37.02px;height:14.76px"><i>△</i></div>
<div class="c" style="left:1229.07px;top:152.45px;width:37.02px;height:14.76px"><i>△</i></div>
<div class="ln" style="left:872.9px;top:181.66px;width:393.2px"></div>
<div class="nm" style="left:872.7px;top:167.21px;width:97px;height:14.76px"><span>호박(누런호박)</span></div>
<div class="c" style="left:969.9px;top:167.21px;width:37.02px;height:14.76px">O</div>
<div class="c" style="left:1006.92px;top:167.21px;width:37.02px;height:14.76px">O</div>
<div class="c" style="left:1043.95px;top:167.21px;width:37.02px;height:14.76px">O</div>
<div class="c" style="left:1080.97px;top:167.21px;width:37.02px;height:14.76px"><i>△</i></div>
<div class="c" style="left:1118px;top:167.21px;width:37.02px;height:14.76px">X</div>
<div class="c" style="left:1155.02px;top:167.21px;width:37.02px;height:14.76px">X</div>
<div class="c" style="left:1192.05px;top:167.21px;width:37.02px;height:14.76px"><i>△</i></div>
<div class="c" style="left:1229.07px;top:167.21px;width:37.02px;height:14.76px"><i>△</i></div>
<div class="ln" style="left:872.9px;top:196.42px;width:393.2px"></div>
<div class="nm" style="left:872.7px;top:181.96px;width:97px;height:14.76px"><span>호박(애호박)</span></div>
<div class="c" style="left:969.9px;top:181.96px;width:37.02px;height:14.76px">O</div>
<div class="c" style="left:1006.92px;top:181.96px;width:37.02px;height:14.76px">O</div>
<div class="c" style="left:1043.95px;top:181.96px;width:37.02px;height:14.76px">O</div>
<div class="c" style="left:1080.97px;top:181.96px;width:37.02px;height:14.76px">O</div>
<div class="c" style="left:1118px;top:181.96px;width:37.02px;height:14.76px"><i>△</i></div>
<div class="c" style="left:1155.02px;top:181.96px;width:37.02px;height:14.76px"><i>△</i></div>
<div class="c" style="left:1192.05px;top:181.96px;width:37.02px;height:14.76px"><i>△</i></div>
<div class="c" style="left:1229.07px;top:181.96px;width:37.02px;height:14.76px">O</div>
<div class="ln" style="left:872.9px;top:211.17px;width:393.2px"></div>
<div class="nm" style="left:872.7px;top:196.72px;width:97px;height:14.76px"><span>가지</span></div>
<div class="c" style="left:969.9px;top:196.72px;width:37.02px;height:14.76px">O</div>
<div class="c" style="left:1006.92px;top:196.72px;width:37.02px;height:14.76px">O</div>
<div class="c" style="left:1043.95px;top:196.72px;width:37.02px;height:14.76px"><i>△</i></div>
<div class="c" style="left:1080.97px;top:196.72px;width:37.02px;height:14.76px"><i>△</i></div>
<div class="c" style="left:1118px;top:196.72px;width:37.02px;height:14.76px"><i>△</i></div>
<div class="c" style="left:1155.02px;top:196.72px;width:37.02px;height:14.76px"><i>△</i></div>
<div class="c" style="left:1192.05px;top:196.72px;width:37.02px;height:14.76px"><i>△</i></div>
<div class="c" style="left:1229.07px;top:196.72px;width:37.02px;height:14.76px"><i>△</i></div>
<div class="ln" style="left:872.9px;top:225.93px;width:393.2px"></div>
<div class="nm" style="left:872.7px;top:211.47px;width:97px;height:14.76px"><span>토마토</span></div>
<div class="c" style="left:969.9px;top:211.47px;width:37.02px;height:14.76px">O</div>
<div class="c" style="left:1006.92px;top:211.47px;width:37.02px;height:14.76px"><i>△</i></div>
<div class="c" style="left:1043.95px;top:211.47px;width:37.02px;height:14.76px">X</div>
<div class="c" style="left:1080.97px;top:211.47px;width:37.02px;height:14.76px">X</div>
<div class="c" style="left:1118px;top:211.47px;width:37.02px;height:14.76px"><i>△</i></div>
<div class="c" style="left:1155.02px;top:211.47px;width:37.02px;height:14.76px"><i>△</i></div>
<div class="c" style="left:1192.05px;top:211.47px;width:37.02px;height:14.76px">O</div>
<div class="c" style="left:1229.07px;top:211.47px;width:37.02px;height:14.76px">O</div>
<div class="ln" style="left:872.9px;top:240.69px;width:393.2px"></div>
<div class="nm" style="left:872.7px;top:226.23px;width:97px;height:14.76px"><span>아보카도</span></div>
<div class="c" style="left:969.9px;top:226.23px;width:37.02px;height:14.76px">O</div>
<div class="c" style="left:1006.92px;top:226.23px;width:37.02px;height:14.76px">O</div>
<div class="c" style="left:1043.95px;top:226.23px;width:37.02px;height:14.76px">O</div>
<div class="c" style="left:1080.97px;top:226.23px;width:37.02px;height:14.76px">O</div>
<div class="c" style="left:1118px;top:226.23px;width:37.02px;height:14.76px"><i>△</i></div>
<div class="c" style="left:1155.02px;top:226.23px;width:37.02px;height:14.76px"><i>△</i></div>
<div class="c" style="left:1192.05px;top:226.23px;width:37.02px;height:14.76px"><i>△</i></div>
<div class="c" style="left:1229.07px;top:226.23px;width:37.02px;height:14.76px"><i>△</i></div>
<div class="ln" style="left:872.9px;top:255.44px;width:393.2px"></div>
<div class="nm" style="left:872.7px;top:240.99px;width:97px;height:14.76px"><span>두릅</span></div>
<div class="c" style="left:969.9px;top:240.99px;width:37.02px;height:14.76px"><i>△</i></div>
<div class="c" style="left:1006.92px;top:240.99px;width:37.02px;height:14.76px"><i>△</i></div>
<div class="c" style="left:1043.95px;top:240.99px;width:37.02px;height:14.76px">O</div>
<div class="c" style="left:1080.97px;top:240.99px;width:37.02px;height:14.76px">O</div>
<div class="c" style="left:1118px;top:240.99px;width:37.02px;height:14.76px"><i>△</i></div>
<div class="c" style="left:1155.02px;top:240.99px;width:37.02px;height:14.76px"><i>△</i></div>
<div class="c" style="left:1192.05px;top:240.99px;width:37.02px;height:14.76px">X</div>
<div class="c" style="left:1229.07px;top:240.99px;width:37.02px;height:14.76px">X</div>
<div class="ln" style="left:872.9px;top:270.2px;width:393.2px"></div>
<div class="nm" style="left:872.7px;top:255.74px;width:97px;height:14.76px"><span>일반 버섯 (송이,표고,느타리 등)</span></div>
<div class="c" style="left:969.9px;top:255.74px;width:37.02px;height:14.76px">O</div>
<div class="c" style="left:1006.92px;top:255.74px;width:37.02px;height:14.76px">O</div>
<div class="c" style="left:1043.95px;top:255.74px;width:37.02px;height:14.76px">O</div>
<div class="c" style="left:1080.97px;top:255.74px;width:37.02px;height:14.76px"><i>△</i></div>
<div class="c" style="left:1118px;top:255.74px;width:37.02px;height:14.76px">X</div>
<div class="c" style="left:1155.02px;top:255.74px;width:37.02px;height:14.76px">X</div>
<div class="c" style="left:1192.05px;top:255.74px;width:37.02px;height:14.76px"><i>△</i></div>
<div class="c" style="left:1229.07px;top:255.74px;width:37.02px;height:14.76px"><i>△</i></div>
<div class="hn" style="left:872.9px;top:277.6px;width:96.9px;height:18.4px"><span>음식</span></div>
<div class="hc" style="left:969.2px;top:277.6px;width:37.69px;height:18.4px;background:#3bb04b"><span>목양</span></div>
<div class="hc" style="left:1006.29px;top:277.6px;width:37.69px;height:18.4px;background:#1e7a3b"><span>목음</span></div>
<div class="hc" style="left:1043.38px;top:277.6px;width:37.69px;height:18.4px;background:#a1672e"><span>토양</span></div>
<div class="hc" style="left:1080.46px;top:277.6px;width:37.69px;height:18.4px;background:#77675b"><span>토음</span></div>
<div class="hc" style="left:1117.55px;top:277.6px;width:37.69px;height:18.4px;background:#f07b40"><span>금양</span></div>
<div class="hc" style="left:1154.64px;top:277.6px;width:37.69px;height:18.4px;background:#c5473a"><span>금음</span></div>
<div class="hc" style="left:1191.73px;top:277.6px;width:37.69px;height:18.4px;background:#1b7bab"><span>수양</span></div>
<div class="hc" style="left:1228.81px;top:277.6px;width:37.09px;height:18.4px;background:#14305a"><span>수음</span></div>
<div class="nb" style="left:872.9px;top:296px;width:96.9px;height:293.4px"></div>
<div class="db" style="left:969.2px;top:296px;width:296.7px;height:293.4px"></div>
<div class="ln" style="left:872.9px;top:309.8px;width:393px"></div>
<div class="nm" style="left:871.5px;top:295.4px;width:96.3px;height:14.7px"><span>사과</span></div>
<div class="c" style="left:969.2px;top:295.4px;width:37.09px;height:14.7px">O</div>
<div class="c" style="left:1006.29px;top:295.4px;width:37.09px;height:14.7px">O</div>
<div class="c" style="left:1043.38px;top:295.4px;width:37.09px;height:14.7px">XX</div>
<div class="c" style="left:1080.46px;top:295.4px;width:37.09px;height:14.7px">XX</div>
<div class="c" style="left:1117.55px;top:295.4px;width:37.09px;height:14.7px">XX</div>
<div class="c" style="left:1154.64px;top:295.4px;width:37.09px;height:14.7px">X</div>
<div class="c" style="left:1191.73px;top:295.4px;width:37.09px;height:14.7px">OO</div>
<div class="c" style="left:1228.81px;top:295.4px;width:37.09px;height:14.7px">OO</div>
<div class="ln" style="left:872.9px;top:324.5px;width:393px"></div>
<div class="nm" style="left:871.5px;top:310.1px;width:96.3px;height:14.7px"><span>배</span></div>
<div class="c" style="left:969.2px;top:310.1px;width:37.09px;height:14.7px">OO</div>
<div class="c" style="left:1006.29px;top:310.1px;width:37.09px;height:14.7px">OO</div>
<div class="c" style="left:1043.38px;top:310.1px;width:37.09px;height:14.7px">O</div>
<div class="c" style="left:1080.46px;top:310.1px;width:37.09px;height:14.7px"><i>△</i></div>
<div class="c" style="left:1117.55px;top:310.1px;width:37.09px;height:14.7px">X</div>
<div class="c" style="left:1154.64px;top:310.1px;width:37.09px;height:14.7px">X</div>
<div class="c" style="left:1191.73px;top:310.1px;width:37.09px;height:14.7px"><i>△</i></div>
<div class="c" style="left:1228.81px;top:310.1px;width:37.09px;height:14.7px">O</div>
<div class="ln" style="left:872.9px;top:339.2px;width:393px"></div>
<div class="nm" style="left:871.5px;top:324.8px;width:96.3px;height:14.7px"><span>귤, 오렌지, 자몽, 레몬, 라임</span></div>
<div class="c" style="left:969.2px;top:324.8px;width:37.09px;height:14.7px">O</div>
<div class="c" style="left:1006.29px;top:324.8px;width:37.09px;height:14.7px"><i>△</i></div>
<div class="c" style="left:1043.38px;top:324.8px;width:37.09px;height:14.7px">XX</div>
<div class="c" style="left:1080.46px;top:324.8px;width:37.09px;height:14.7px">XX</div>
<div class="c" style="left:1117.55px;top:324.8px;width:37.09px;height:14.7px">X</div>
<div class="c" style="left:1154.64px;top:324.8px;width:37.09px;height:14.7px"><i>△</i></div>
<div class="c" style="left:1191.73px;top:324.8px;width:37.09px;height:14.7px">O</div>
<div class="c" style="left:1228.81px;top:324.8px;width:37.09px;height:14.7px">O</div>
<div class="ln" style="left:872.9px;top:353.9px;width:393px"></div>
<div class="nm" style="left:871.5px;top:339.5px;width:96.3px;height:14.7px"><span>망고</span></div>
<div class="c" style="left:969.2px;top:339.5px;width:37.09px;height:14.7px">O</div>
<div class="c" style="left:1006.29px;top:339.5px;width:37.09px;height:14.7px">O</div>
<div class="c" style="left:1043.38px;top:339.5px;width:37.09px;height:14.7px">XX</div>
<div class="c" style="left:1080.46px;top:339.5px;width:37.09px;height:14.7px">XX</div>
<div class="c" style="left:1117.55px;top:339.5px;width:37.09px;height:14.7px">X</div>
<div class="c" style="left:1154.64px;top:339.5px;width:37.09px;height:14.7px"><i>△</i></div>
<div class="c" style="left:1191.73px;top:339.5px;width:37.09px;height:14.7px">O</div>
<div class="c" style="left:1228.81px;top:339.5px;width:37.09px;height:14.7px">O</div>
<div class="ln" style="left:872.9px;top:368.6px;width:393px"></div>
<div class="nm" style="left:871.5px;top:354.2px;width:96.3px;height:14.7px"><span>토마토</span></div>
<div class="c" style="left:969.2px;top:354.2px;width:37.09px;height:14.7px">O</div>
<div class="c" style="left:1006.29px;top:354.2px;width:37.09px;height:14.7px"><i>△</i></div>
<div class="c" style="left:1043.38px;top:354.2px;width:37.09px;height:14.7px">X</div>
<div class="c" style="left:1080.46px;top:354.2px;width:37.09px;height:14.7px">X</div>
<div class="c" style="left:1117.55px;top:354.2px;width:37.09px;height:14.7px"><i>△</i></div>
<div class="c" style="left:1154.64px;top:354.2px;width:37.09px;height:14.7px"><i>△</i></div>
<div class="c" style="left:1191.73px;top:354.2px;width:37.09px;height:14.7px">O</div>
<div class="c" style="left:1228.81px;top:354.2px;width:37.09px;height:14.7px">O</div>
<div class="ln" style="left:872.9px;top:383.3px;width:393px"></div>
<div class="nm" style="left:871.5px;top:368.9px;width:96.3px;height:14.7px"><span>수박,메론</span></div>
<div class="c" style="left:969.2px;top:368.9px;width:37.09px;height:14.7px">O</div>
<div class="c" style="left:1006.29px;top:368.9px;width:37.09px;height:14.7px">O</div>
<div class="c" style="left:1043.38px;top:368.9px;width:37.09px;height:14.7px">O</div>
<div class="c" style="left:1080.46px;top:368.9px;width:37.09px;height:14.7px">O</div>
<div class="c" style="left:1117.55px;top:368.9px;width:37.09px;height:14.7px">X</div>
<div class="c" style="left:1154.64px;top:368.9px;width:37.09px;height:14.7px">X</div>
<div class="c" style="left:1191.73px;top:368.9px;width:37.09px;height:14.7px"><i>△</i></div>
<div class="c" style="left:1228.81px;top:368.9px;width:37.09px;height:14.7px"><i>△</i></div>
<div class="ln" style="left:872.9px;top:398px;width:393px"></div>
<div class="nm" style="left:871.5px;top:383.6px;width:96.3px;height:14.7px"><span>검정포도 Campbell (한국포도)</span></div>
<div class="c" style="left:969.2px;top:383.6px;width:37.09px;height:14.7px">X</div>
<div class="c" style="left:1006.29px;top:383.6px;width:37.09px;height:14.7px">X</div>
<div class="c" style="left:1043.38px;top:383.6px;width:37.09px;height:14.7px">O</div>
<div class="c" style="left:1080.46px;top:383.6px;width:37.09px;height:14.7px">O</div>
<div class="c" style="left:1117.55px;top:383.6px;width:37.09px;height:14.7px">O</div>
<div class="c" style="left:1154.64px;top:383.6px;width:37.09px;height:14.7px">O</div>
<div class="c" style="left:1191.73px;top:383.6px;width:37.09px;height:14.7px"><i>△</i></div>
<div class="c" style="left:1228.81px;top:383.6px;width:37.09px;height:14.7px"><i>△</i></div>
<div class="ln" style="left:872.9px;top:412.7px;width:393px"></div>
<div class="nm" style="left:871.5px;top:398.3px;width:96.3px;height:14.7px"><span>청포도</span></div>
<div class="c" style="left:969.2px;top:398.3px;width:37.09px;height:14.7px">X</div>
<div class="c" style="left:1006.29px;top:398.3px;width:37.09px;height:14.7px">X</div>
<div class="c" style="left:1043.38px;top:398.3px;width:37.09px;height:14.7px">O</div>
<div class="c" style="left:1080.46px;top:398.3px;width:37.09px;height:14.7px">O</div>
<div class="c" style="left:1117.55px;top:398.3px;width:37.09px;height:14.7px">O</div>
<div class="c" style="left:1154.64px;top:398.3px;width:37.09px;height:14.7px">O</div>
<div class="c" style="left:1191.73px;top:398.3px;width:37.09px;height:14.7px"><i>△</i></div>
<div class="c" style="left:1228.81px;top:398.3px;width:37.09px;height:14.7px">X</div>
<div class="ln" style="left:872.9px;top:427.4px;width:393px"></div>
<div class="nm" style="left:871.5px;top:413px;width:96.3px;height:14.7px"><span>참외, 딸기, 바나나, 파인애플</span></div>
<div class="c" style="left:969.2px;top:413px;width:37.09px;height:14.7px"><i>△</i></div>
<div class="c" style="left:1006.29px;top:413px;width:37.09px;height:14.7px"><i>△</i></div>
<div class="c" style="left:1043.38px;top:413px;width:37.09px;height:14.7px">O</div>
<div class="c" style="left:1080.46px;top:413px;width:37.09px;height:14.7px">O</div>
<div class="c" style="left:1117.55px;top:413px;width:37.09px;height:14.7px">O</div>
<div class="c" style="left:1154.64px;top:413px;width:37.09px;height:14.7px">O</div>
<div class="c" style="left:1191.73px;top:413px;width:37.09px;height:14.7px">X</div>
<div class="c" style="left:1228.81px;top:413px;width:37.09px;height:14.7px">X</div>
<div class="ln" style="left:872.9px;top:442.1px;width:393px"></div>
<div class="nm" style="left:871.5px;top:427.7px;width:96.3px;height:14.7px"><span>키위</span></div>
<div class="c" style="left:969.2px;top:427.7px;width:37.09px;height:14.7px"><i>△</i></div>
<div class="c" style="left:1006.29px;top:427.7px;width:37.09px;height:14.7px"><i>△</i></div>
<div class="c" style="left:1043.38px;top:427.7px;width:37.09px;height:14.7px">O</div>
<div class="c" style="left:1080.46px;top:427.7px;width:37.09px;height:14.7px">O</div>
<div class="c" style="left:1117.55px;top:427.7px;width:37.09px;height:14.7px">O</div>
<div class="c" style="left:1154.64px;top:427.7px;width:37.09px;height:14.7px">O</div>
<div class="c" style="left:1191.73px;top:427.7px;width:37.09px;height:14.7px"><i>△</i></div>
<div class="c" style="left:1228.81px;top:427.7px;width:37.09px;height:14.7px"><i>△</i></div>
<div class="ln" style="left:872.9px;top:456.8px;width:393px"></div>
<div class="nm" style="left:871.5px;top:442.4px;width:96.3px;height:14.7px"><span>석류</span></div>
<div class="c" style="left:969.2px;top:442.4px;width:37.09px;height:14.7px"><i>△</i></div>
<div class="c" style="left:1006.29px;top:442.4px;width:37.09px;height:14.7px"><i>△</i></div>
<div class="c" style="left:1043.38px;top:442.4px;width:37.09px;height:14.7px">O</div>
<div class="c" style="left:1080.46px;top:442.4px;width:37.09px;height:14.7px">O</div>
<div class="c" style="left:1117.55px;top:442.4px;width:37.09px;height:14.7px">X</div>
<div class="c" style="left:1154.64px;top:442.4px;width:37.09px;height:14.7px">X</div>
<div class="c" style="left:1191.73px;top:442.4px;width:37.09px;height:14.7px"><i>△</i></div>
<div class="c" style="left:1228.81px;top:442.4px;width:37.09px;height:14.7px"><i>△</i></div>
<div class="ln" style="left:872.9px;top:471.5px;width:393px"></div>
<div class="nm" style="left:871.5px;top:457.1px;width:96.3px;height:14.7px"><span>파파야</span></div>
<div class="c" style="left:969.2px;top:457.1px;width:37.09px;height:14.7px"><i>△</i></div>
<div class="c" style="left:1006.29px;top:457.1px;width:37.09px;height:14.7px"><i>△</i></div>
<div class="c" style="left:1043.38px;top:457.1px;width:37.09px;height:14.7px"><i>△</i></div>
<div class="c" style="left:1080.46px;top:457.1px;width:37.09px;height:14.7px"><i>△</i></div>
<div class="c" style="left:1117.55px;top:457.1px;width:37.09px;height:14.7px"><i>△</i></div>
<div class="c" style="left:1154.64px;top:457.1px;width:37.09px;height:14.7px"><i>△</i></div>
<div class="c" style="left:1191.73px;top:457.1px;width:37.09px;height:14.7px"><i>△</i></div>
<div class="c" style="left:1228.81px;top:457.1px;width:37.09px;height:14.7px"><i>△</i></div>
<div class="ln" style="left:872.9px;top:486.2px;width:393px"></div>
<div class="nm" style="left:871.5px;top:471.8px;width:96.3px;height:14.7px"><span>아보카도</span></div>
<div class="c" style="left:969.2px;top:471.8px;width:37.09px;height:14.7px">O</div>
<div class="c" style="left:1006.29px;top:471.8px;width:37.09px;height:14.7px">O</div>
<div class="c" style="left:1043.38px;top:471.8px;width:37.09px;height:14.7px">O</div>
<div class="c" style="left:1080.46px;top:471.8px;width:37.09px;height:14.7px">O</div>
<div class="c" style="left:1117.55px;top:471.8px;width:37.09px;height:14.7px"><i>△</i></div>
<div class="c" style="left:1154.64px;top:471.8px;width:37.09px;height:14.7px"><i>△</i></div>
<div class="c" style="left:1191.73px;top:471.8px;width:37.09px;height:14.7px"><i>△</i></div>
<div class="c" style="left:1228.81px;top:471.8px;width:37.09px;height:14.7px"><i>△</i></div>
<div class="ln" style="left:872.9px;top:500.9px;width:393px"></div>
<div class="nm" style="left:871.5px;top:486.5px;width:96.3px;height:14.7px"><span>오디열매</span></div>
<div class="c" style="left:969.2px;top:486.5px;width:37.09px;height:14.7px">O</div>
<div class="c" style="left:1006.29px;top:486.5px;width:37.09px;height:14.7px">O</div>
<div class="c" style="left:1043.38px;top:486.5px;width:37.09px;height:14.7px"><i>△</i></div>
<div class="c" style="left:1080.46px;top:486.5px;width:37.09px;height:14.7px"><i>△</i></div>
<div class="c" style="left:1117.55px;top:486.5px;width:37.09px;height:14.7px">X</div>
<div class="c" style="left:1154.64px;top:486.5px;width:37.09px;height:14.7px">X</div>
<div class="c" style="left:1191.73px;top:486.5px;width:37.09px;height:14.7px"><i>△</i></div>
<div class="c" style="left:1228.81px;top:486.5px;width:37.09px;height:14.7px"><i>△</i></div>
<div class="ln" style="left:872.9px;top:515.6px;width:393px"></div>
<div class="nm" style="left:871.5px;top:501.2px;width:96.3px;height:14.7px"><span>감</span></div>
<div class="c" style="left:969.2px;top:501.2px;width:37.09px;height:14.7px">X</div>
<div class="c" style="left:1006.29px;top:501.2px;width:37.09px;height:14.7px">X</div>
<div class="c" style="left:1043.38px;top:501.2px;width:37.09px;height:14.7px">O</div>
<div class="c" style="left:1080.46px;top:501.2px;width:37.09px;height:14.7px">O</div>
<div class="c" style="left:1117.55px;top:501.2px;width:37.09px;height:14.7px">O</div>
<div class="c" style="left:1154.64px;top:501.2px;width:37.09px;height:14.7px">O</div>
<div class="c" style="left:1191.73px;top:501.2px;width:37.09px;height:14.7px">X</div>
<div class="c" style="left:1228.81px;top:501.2px;width:37.09px;height:14.7px">X</div>
<div class="ln" style="left:872.9px;top:530.3px;width:393px"></div>
<div class="nm" style="left:871.5px;top:515.9px;width:96.3px;height:14.7px"><span>복분자</span></div>
<div class="c" style="left:969.2px;top:515.9px;width:37.09px;height:14.7px">X</div>
<div class="c" style="left:1006.29px;top:515.9px;width:37.09px;height:14.7px">X</div>
<div class="c" style="left:1043.38px;top:515.9px;width:37.09px;height:14.7px">O</div>
<div class="c" style="left:1080.46px;top:515.9px;width:37.09px;height:14.7px">O</div>
<div class="c" style="left:1117.55px;top:515.9px;width:37.09px;height:14.7px">O</div>
<div class="c" style="left:1154.64px;top:515.9px;width:37.09px;height:14.7px"><i>△</i></div>
<div class="c" style="left:1191.73px;top:515.9px;width:37.09px;height:14.7px">X</div>
<div class="c" style="left:1228.81px;top:515.9px;width:37.09px;height:14.7px">X</div>
<div class="ln" style="left:872.9px;top:545px;width:393px"></div>
<div class="nm" style="left:871.5px;top:530.6px;width:96.3px;height:14.7px"><span>복숭아, 자두</span></div>
<div class="c" style="left:969.2px;top:530.6px;width:37.09px;height:14.7px"><i>△</i></div>
<div class="c" style="left:1006.29px;top:530.6px;width:37.09px;height:14.7px"><i>△</i></div>
<div class="c" style="left:1043.38px;top:530.6px;width:37.09px;height:14.7px"><i>△</i></div>
<div class="c" style="left:1080.46px;top:530.6px;width:37.09px;height:14.7px"><i>△</i></div>
<div class="c" style="left:1117.55px;top:530.6px;width:37.09px;height:14.7px"><i>△</i></div>
<div class="c" style="left:1154.64px;top:530.6px;width:37.09px;height:14.7px"><i>△</i></div>
<div class="c" style="left:1191.73px;top:530.6px;width:37.09px;height:14.7px"><i>△</i></div>
<div class="c" style="left:1228.81px;top:530.6px;width:37.09px;height:14.7px"><i>△</i></div>
<div class="ln" style="left:872.9px;top:559.7px;width:393px"></div>
<div class="nm" style="left:871.5px;top:545.3px;width:96.3px;height:14.7px"><span>체리, 앵두, 살구</span></div>
<div class="c" style="left:969.2px;top:545.3px;width:37.09px;height:14.7px"><i>△</i></div>
<div class="c" style="left:1006.29px;top:545.3px;width:37.09px;height:14.7px"><i>△</i></div>
<div class="c" style="left:1043.38px;top:545.3px;width:37.09px;height:14.7px"><i>△</i></div>
<div class="c" style="left:1080.46px;top:545.3px;width:37.09px;height:14.7px"><i>△</i></div>
<div class="c" style="left:1117.55px;top:545.3px;width:37.09px;height:14.7px">O</div>
<div class="c" style="left:1154.64px;top:545.3px;width:37.09px;height:14.7px">O</div>
<div class="c" style="left:1191.73px;top:545.3px;width:37.09px;height:14.7px"><i>△</i></div>
<div class="c" style="left:1228.81px;top:545.3px;width:37.09px;height:14.7px"><i>△</i></div>
<div class="ln" style="left:872.9px;top:574.4px;width:393px"></div>
<div class="nm" style="left:871.5px;top:560px;width:96.3px;height:14.7px"><span>크랜베리</span></div>
<div class="c" style="left:969.2px;top:560px;width:37.09px;height:14.7px">X</div>
<div class="c" style="left:1006.29px;top:560px;width:37.09px;height:14.7px">X</div>
<div class="c" style="left:1043.38px;top:560px;width:37.09px;height:14.7px">O</div>
<div class="c" style="left:1080.46px;top:560px;width:37.09px;height:14.7px">O</div>
<div class="c" style="left:1117.55px;top:560px;width:37.09px;height:14.7px"><i>△</i></div>
<div class="c" style="left:1154.64px;top:560px;width:37.09px;height:14.7px"><i>△</i></div>
<div class="c" style="left:1191.73px;top:560px;width:37.09px;height:14.7px">XX</div>
<div class="c" style="left:1228.81px;top:560px;width:37.09px;height:14.7px">XX</div>
<div class="ln" style="left:872.9px;top:589.1px;width:393px"></div>
<div class="nm" style="left:871.5px;top:574.7px;width:96.3px;height:14.7px"><span>블루베리</span></div>
<div class="c" style="left:969.2px;top:574.7px;width:37.09px;height:14.7px">X</div>
<div class="c" style="left:1006.29px;top:574.7px;width:37.09px;height:14.7px">X</div>
<div class="c" style="left:1043.38px;top:574.7px;width:37.09px;height:14.7px">O</div>
<div class="c" style="left:1080.46px;top:574.7px;width:37.09px;height:14.7px">O</div>
<div class="c" style="left:1117.55px;top:574.7px;width:37.09px;height:14.7px">O</div>
<div class="c" style="left:1154.64px;top:574.7px;width:37.09px;height:14.7px">O</div>
<div class="c" style="left:1191.73px;top:574.7px;width:37.09px;height:14.7px">X</div>
<div class="c" style="left:1228.81px;top:574.7px;width:37.09px;height:14.7px">X</div>
</body></html>
